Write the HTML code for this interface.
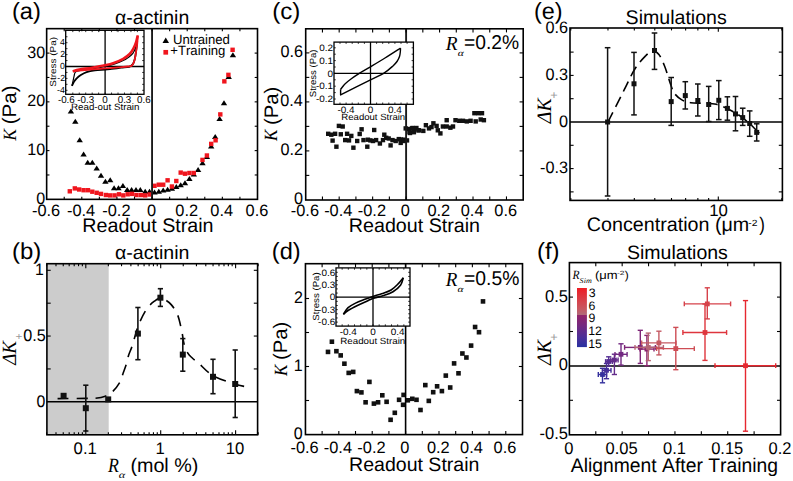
<!DOCTYPE html>
<html><head><meta charset="utf-8"><style>
html,body{margin:0;padding:0;background:#fff;overflow:hidden;}
svg{display:block;}
text{font-kerning:none;text-rendering:geometricPrecision;}
</style></head><body>
<svg width="793" height="481" viewBox="0 0 793 481">
<rect width="793" height="481" fill="#fff"/>
<text transform="translate(11.93,18.96) scale(1.0118,1)" font-size="23.40" font-family='"Liberation Sans", sans-serif' fill="#000" >(a)</text>
<text transform="translate(115.08,24.11) scale(1.0092,1)" font-size="19.34" font-family='"Liberation Sans", sans-serif' fill="#000" >α-actinin</text>
<polygon points="70.90,108.40 67.70,113.40 74.10,113.40" fill="#000"/>
<polygon points="75.30,118.70 72.10,123.70 78.50,123.70" fill="#000"/>
<polygon points="79.70,137.20 76.50,142.20 82.90,142.20" fill="#000"/>
<polygon points="83.60,151.40 80.40,156.40 86.80,156.40" fill="#000"/>
<polygon points="87.70,159.70 84.50,164.70 90.90,164.70" fill="#000"/>
<polygon points="92.30,159.70 89.10,164.70 95.50,164.70" fill="#000"/>
<polygon points="96.70,165.60 93.50,170.60 99.90,170.60" fill="#000"/>
<polygon points="101.00,172.80 97.80,177.80 104.20,177.80" fill="#000"/>
<polygon points="105.40,178.70 102.20,183.70 108.60,183.70" fill="#000"/>
<polygon points="110.20,177.20 107.00,182.20 113.40,182.20" fill="#000"/>
<polygon points="114.10,185.30 110.90,190.30 117.30,190.30" fill="#000"/>
<polygon points="118.50,185.30 115.30,190.30 121.70,190.30" fill="#000"/>
<polygon points="122.90,183.10 119.70,188.10 126.10,188.10" fill="#000"/>
<polygon points="127.20,187.00 124.00,192.00 130.40,192.00" fill="#000"/>
<polygon points="131.60,187.00 128.40,192.00 134.80,192.00" fill="#000"/>
<polygon points="136.00,187.00 132.80,192.00 139.20,192.00" fill="#000"/>
<polygon points="140.30,187.00 137.10,192.00 143.50,192.00" fill="#000"/>
<polygon points="145.20,188.80 142.00,193.80 148.40,193.80" fill="#000"/>
<polygon points="149.50,188.80 146.30,193.80 152.70,193.80" fill="#000"/>
<polygon points="154.50,189.50 151.30,194.50 157.70,194.50" fill="#000"/>
<polygon points="158.80,188.70 155.60,193.70 162.00,193.70" fill="#000"/>
<polygon points="163.20,187.60 160.00,192.60 166.40,192.60" fill="#000"/>
<polygon points="167.60,186.70 164.40,191.70 170.80,191.70" fill="#000"/>
<polygon points="171.90,185.80 168.70,190.80 175.10,190.80" fill="#000"/>
<polygon points="176.30,184.00 173.10,189.00 179.50,189.00" fill="#000"/>
<polygon points="180.70,182.20 177.50,187.20 183.90,187.20" fill="#000"/>
<polygon points="185.00,180.30 181.80,185.30 188.20,185.30" fill="#000"/>
<polygon points="189.40,176.00 186.20,181.00 192.60,181.00" fill="#000"/>
<polygon points="193.80,171.50 190.60,176.50 197.00,176.50" fill="#000"/>
<polygon points="198.10,166.90 194.90,171.90 201.30,171.90" fill="#000"/>
<polygon points="202.50,160.30 199.30,165.30 205.70,165.30" fill="#000"/>
<polygon points="206.90,154.10 203.70,159.10 210.10,159.10" fill="#000"/>
<polygon points="211.20,143.50 208.00,148.50 214.40,148.50" fill="#000"/>
<polygon points="215.20,134.10 212.00,139.10 218.40,139.10" fill="#000"/>
<polygon points="219.60,115.90 216.40,120.90 222.80,120.90" fill="#000"/>
<polygon points="224.00,100.30 220.80,105.30 227.20,105.30" fill="#000"/>
<polygon points="228.70,74.00 225.50,79.00 231.90,79.00" fill="#000"/>
<polygon points="232.90,52.20 229.70,57.20 236.10,57.20" fill="#000"/>
<rect x="67.60" y="189.10" width="4.40" height="4.40" fill="#f0161e"/>
<rect x="72.60" y="186.20" width="4.40" height="4.40" fill="#f0161e"/>
<rect x="77.00" y="187.30" width="4.40" height="4.40" fill="#f0161e"/>
<rect x="81.40" y="188.00" width="4.40" height="4.40" fill="#f0161e"/>
<rect x="85.80" y="188.00" width="4.40" height="4.40" fill="#f0161e"/>
<rect x="90.10" y="189.50" width="4.40" height="4.40" fill="#f0161e"/>
<rect x="94.50" y="190.60" width="4.40" height="4.40" fill="#f0161e"/>
<rect x="98.80" y="191.70" width="4.40" height="4.40" fill="#f0161e"/>
<rect x="103.70" y="192.80" width="4.40" height="4.40" fill="#f0161e"/>
<rect x="108.00" y="193.20" width="4.40" height="4.40" fill="#f0161e"/>
<rect x="112.40" y="193.20" width="4.40" height="4.40" fill="#f0161e"/>
<rect x="116.80" y="192.10" width="4.40" height="4.40" fill="#f0161e"/>
<rect x="121.10" y="193.20" width="4.40" height="4.40" fill="#f0161e"/>
<rect x="125.50" y="192.10" width="4.40" height="4.40" fill="#f0161e"/>
<rect x="129.80" y="191.70" width="4.40" height="4.40" fill="#f0161e"/>
<rect x="134.20" y="192.80" width="4.40" height="4.40" fill="#f0161e"/>
<rect x="138.60" y="192.80" width="4.40" height="4.40" fill="#f0161e"/>
<rect x="143.00" y="193.20" width="4.40" height="4.40" fill="#f0161e"/>
<rect x="147.40" y="192.30" width="4.40" height="4.40" fill="#f0161e"/>
<rect x="152.30" y="183.60" width="4.40" height="4.40" fill="#f0161e"/>
<rect x="156.60" y="182.50" width="4.40" height="4.40" fill="#f0161e"/>
<rect x="161.00" y="182.50" width="4.40" height="4.40" fill="#f0161e"/>
<rect x="165.40" y="178.10" width="4.40" height="4.40" fill="#f0161e"/>
<rect x="169.70" y="184.30" width="4.40" height="4.40" fill="#f0161e"/>
<rect x="174.10" y="178.80" width="4.40" height="4.40" fill="#f0161e"/>
<rect x="178.50" y="170.40" width="4.40" height="4.40" fill="#f0161e"/>
<rect x="182.80" y="171.50" width="4.40" height="4.40" fill="#f0161e"/>
<rect x="187.20" y="170.80" width="4.40" height="4.40" fill="#f0161e"/>
<rect x="191.60" y="170.80" width="4.40" height="4.40" fill="#f0161e"/>
<rect x="200.30" y="157.70" width="4.40" height="4.40" fill="#f0161e"/>
<rect x="204.70" y="153.30" width="4.40" height="4.40" fill="#f0161e"/>
<rect x="209.00" y="141.70" width="4.40" height="4.40" fill="#f0161e"/>
<rect x="213.40" y="138.10" width="4.40" height="4.40" fill="#f0161e"/>
<rect x="218.10" y="112.20" width="4.40" height="4.40" fill="#f0161e"/>
<rect x="222.15" y="79.15" width="4.40" height="4.40" fill="#f0161e"/>
<rect x="226.20" y="72.65" width="4.40" height="4.40" fill="#f0161e"/>
<rect x="230.40" y="47.60" width="4.40" height="4.40" fill="#f0161e"/>
<line x1="152.07" y1="28.65" x2="152.07" y2="199.35" stroke="#1a1a1a" stroke-width="1.9" />
<rect x="65.70" y="30.30" width="78.30" height="64.00" fill="#fff"/>
<line x1="105.10" y1="30.30" x2="105.10" y2="94.30" stroke="#000" stroke-width="1.3" />
<line x1="65.70" y1="66.50" x2="144.00" y2="66.50" stroke="#000" stroke-width="1.3" />
<line x1="72.80" y1="94.30" x2="72.80" y2="92.50" stroke="#000" stroke-width="0.8" />
<line x1="72.80" y1="30.30" x2="72.80" y2="32.10" stroke="#000" stroke-width="0.8" />
<line x1="79.26" y1="94.30" x2="79.26" y2="92.50" stroke="#000" stroke-width="0.8" />
<line x1="79.26" y1="30.30" x2="79.26" y2="32.10" stroke="#000" stroke-width="0.8" />
<line x1="85.72" y1="94.30" x2="85.72" y2="92.50" stroke="#000" stroke-width="0.8" />
<line x1="85.72" y1="30.30" x2="85.72" y2="32.10" stroke="#000" stroke-width="0.8" />
<line x1="92.18" y1="94.30" x2="92.18" y2="92.50" stroke="#000" stroke-width="0.8" />
<line x1="92.18" y1="30.30" x2="92.18" y2="32.10" stroke="#000" stroke-width="0.8" />
<line x1="98.64" y1="94.30" x2="98.64" y2="92.50" stroke="#000" stroke-width="0.8" />
<line x1="98.64" y1="30.30" x2="98.64" y2="32.10" stroke="#000" stroke-width="0.8" />
<line x1="105.10" y1="94.30" x2="105.10" y2="92.50" stroke="#000" stroke-width="0.8" />
<line x1="105.10" y1="30.30" x2="105.10" y2="32.10" stroke="#000" stroke-width="0.8" />
<line x1="111.56" y1="94.30" x2="111.56" y2="92.50" stroke="#000" stroke-width="0.8" />
<line x1="111.56" y1="30.30" x2="111.56" y2="32.10" stroke="#000" stroke-width="0.8" />
<line x1="118.02" y1="94.30" x2="118.02" y2="92.50" stroke="#000" stroke-width="0.8" />
<line x1="118.02" y1="30.30" x2="118.02" y2="32.10" stroke="#000" stroke-width="0.8" />
<line x1="124.48" y1="94.30" x2="124.48" y2="92.50" stroke="#000" stroke-width="0.8" />
<line x1="124.48" y1="30.30" x2="124.48" y2="32.10" stroke="#000" stroke-width="0.8" />
<line x1="130.94" y1="94.30" x2="130.94" y2="92.50" stroke="#000" stroke-width="0.8" />
<line x1="130.94" y1="30.30" x2="130.94" y2="32.10" stroke="#000" stroke-width="0.8" />
<line x1="137.40" y1="94.30" x2="137.40" y2="92.50" stroke="#000" stroke-width="0.8" />
<line x1="137.40" y1="30.30" x2="137.40" y2="32.10" stroke="#000" stroke-width="0.8" />
<line x1="65.70" y1="90.30" x2="67.50" y2="90.30" stroke="#000" stroke-width="0.8" />
<line x1="144.00" y1="90.30" x2="142.20" y2="90.30" stroke="#000" stroke-width="0.8" />
<line x1="65.70" y1="84.35" x2="67.50" y2="84.35" stroke="#000" stroke-width="0.8" />
<line x1="144.00" y1="84.35" x2="142.20" y2="84.35" stroke="#000" stroke-width="0.8" />
<line x1="65.70" y1="78.40" x2="67.50" y2="78.40" stroke="#000" stroke-width="0.8" />
<line x1="144.00" y1="78.40" x2="142.20" y2="78.40" stroke="#000" stroke-width="0.8" />
<line x1="65.70" y1="72.45" x2="67.50" y2="72.45" stroke="#000" stroke-width="0.8" />
<line x1="144.00" y1="72.45" x2="142.20" y2="72.45" stroke="#000" stroke-width="0.8" />
<line x1="65.70" y1="66.50" x2="67.50" y2="66.50" stroke="#000" stroke-width="0.8" />
<line x1="144.00" y1="66.50" x2="142.20" y2="66.50" stroke="#000" stroke-width="0.8" />
<line x1="65.70" y1="60.55" x2="67.50" y2="60.55" stroke="#000" stroke-width="0.8" />
<line x1="144.00" y1="60.55" x2="142.20" y2="60.55" stroke="#000" stroke-width="0.8" />
<line x1="65.70" y1="54.60" x2="67.50" y2="54.60" stroke="#000" stroke-width="0.8" />
<line x1="144.00" y1="54.60" x2="142.20" y2="54.60" stroke="#000" stroke-width="0.8" />
<line x1="65.70" y1="48.65" x2="67.50" y2="48.65" stroke="#000" stroke-width="0.8" />
<line x1="144.00" y1="48.65" x2="142.20" y2="48.65" stroke="#000" stroke-width="0.8" />
<line x1="65.70" y1="42.70" x2="67.50" y2="42.70" stroke="#000" stroke-width="0.8" />
<line x1="144.00" y1="42.70" x2="142.20" y2="42.70" stroke="#000" stroke-width="0.8" />
<line x1="65.70" y1="36.75" x2="67.50" y2="36.75" stroke="#000" stroke-width="0.8" />
<line x1="144.00" y1="36.75" x2="142.20" y2="36.75" stroke="#000" stroke-width="0.8" />
<path d="M72.02,85.78 C72.37,85.08 73.32,82.86 74.09,81.61 C74.87,80.36 75.56,79.38 76.68,78.28 C77.80,77.18 79.15,76.04 80.81,75.01 C82.47,73.98 84.28,72.86 86.62,72.09 C88.97,71.33 91.81,70.84 94.89,70.43 C97.97,70.01 102.32,69.85 105.10,69.59 C107.88,69.34 108.87,69.20 111.56,68.88 C114.25,68.56 118.34,68.04 121.25,67.69 C124.16,67.34 127.06,67.39 129.00,66.80 C130.94,66.20 131.91,65.46 132.88,64.12 C133.85,62.78 134.28,60.95 134.82,58.77 C135.35,56.58 135.71,54.01 136.11,51.03 C136.51,48.05 137.02,42.60 137.21,40.91" fill="none" stroke="#000" stroke-width="1.8" stroke-linejoin="round" stroke-linecap="butt" />
<path d="M137.21,40.91 C136.92,42.10 136.18,45.97 135.46,48.05 C134.74,50.14 133.95,51.92 132.88,53.41 C131.80,54.90 130.62,55.79 129.00,56.98 C127.39,58.17 125.56,59.41 123.19,60.55 C120.82,61.69 117.80,62.83 114.79,63.82 C111.78,64.81 108.87,65.66 105.10,66.50 C101.33,67.34 96.49,68.19 92.18,68.88 C87.87,69.57 82.06,70.12 79.26,70.67 C76.46,71.21 76.25,71.26 75.38,72.15 C74.52,73.05 74.65,73.75 74.09,76.02 C73.53,78.29 72.37,84.15 72.02,85.78" fill="none" stroke="#000" stroke-width="1.2" stroke-linejoin="round" stroke-linecap="butt" />
<path d="M72.80,71.26 C73.88,70.98 76.03,70.19 79.26,69.59 C82.49,69.00 87.87,68.40 92.18,67.69 C96.49,66.98 101.49,66.10 105.10,65.31 C108.71,64.52 110.81,64.02 113.82,62.93 C116.84,61.84 120.55,60.25 123.19,58.77 C125.83,57.28 127.95,55.69 129.65,54.00 C131.35,52.32 132.32,50.63 133.39,48.65 C134.47,46.67 135.39,44.29 136.11,42.11 C136.83,39.92 137.45,36.65 137.72,35.56" fill="none" stroke="#f0161e" stroke-width="2.6" stroke-linejoin="round" stroke-linecap="butt" />
<path d="M137.72,35.56 C137.64,36.97 137.53,41.03 137.21,44.01 C136.88,46.98 136.25,50.61 135.78,53.41 C135.32,56.21 135.06,58.77 134.43,60.79 C133.79,62.80 133.09,64.54 131.97,65.49 C130.85,66.44 129.96,66.19 127.71,66.50 C125.46,66.81 122.24,67.01 118.47,67.33 C114.70,67.66 109.48,68.11 105.10,68.46 C100.72,68.82 96.49,69.13 92.18,69.47 C87.87,69.82 82.49,70.25 79.26,70.55 C76.03,70.84 73.88,71.14 72.80,71.26" fill="none" stroke="#f0161e" stroke-width="1.8" stroke-linejoin="round" stroke-linecap="butt" />
<rect x="65.70" y="30.30" width="78.30" height="64.00" fill="none" stroke="#000" stroke-width="1.3"/>
<text transform="translate(59.96,45.43) scale(1.0000,1)" font-size="8.80" font-family='"Liberation Sans", sans-serif' fill="#000" >4</text>
<text transform="translate(60.15,57.37) scale(1.0000,1)" font-size="8.80" font-family='"Liberation Sans", sans-serif' fill="#000" >2</text>
<text transform="translate(60.05,69.23) scale(1.0000,1)" font-size="8.80" font-family='"Liberation Sans", sans-serif' fill="#000" >0</text>
<text transform="translate(57.22,81.17) scale(1.0000,1)" font-size="8.80" font-family='"Liberation Sans", sans-serif' fill="#000" >-2</text>
<text transform="translate(57.03,93.03) scale(1.0000,1)" font-size="8.80" font-family='"Liberation Sans", sans-serif' fill="#000" >-4</text>
<text transform="translate(57.89,102.70) scale(0.9800,1)" font-size="10.00" font-family='"Liberation Sans", sans-serif' fill="#000" >-0.6</text>
<text transform="translate(77.27,102.70) scale(0.9800,1)" font-size="10.00" font-family='"Liberation Sans", sans-serif' fill="#000" >-0.3</text>
<text transform="translate(102.37,102.70) scale(0.9800,1)" font-size="10.00" font-family='"Liberation Sans", sans-serif' fill="#000" >0</text>
<text transform="translate(117.69,102.70) scale(0.9800,1)" font-size="10.00" font-family='"Liberation Sans", sans-serif' fill="#000" >0.3</text>
<text transform="translate(137.07,102.70) scale(0.9800,1)" font-size="10.00" font-family='"Liberation Sans", sans-serif' fill="#000" >0.6</text>
<text transform="translate(71.00,109.71) scale(1.0568,1)" font-size="9.26" font-family='"Liberation Sans", sans-serif' fill="#000" >Read-out Strain</text>
<text transform="translate(55.82,86.65) rotate(-90) scale(1.1589,1)" font-size="8.59" font-family='"Liberation Sans", sans-serif' fill="#000" >Stress (Pa)</text>
<polygon points="165.75,37.60 162.50,43.00 169.00,43.00" fill="#000"/>
<text transform="translate(172.99,43.57) scale(0.9804,1)" font-size="13.40" font-family='"Liberation Sans", sans-serif' fill="#000" >Untrained</text>
<rect x="163.40" y="49.95" width="4.70" height="4.70" fill="#f0161e"/>
<text transform="translate(170.26,55.42) scale(0.9814,1)" font-size="13.40" font-family='"Liberation Sans", sans-serif' fill="#000" >+Training</text>
<rect x="46.65" y="28.65" width="210.85" height="170.70" fill="none" stroke="#000" stroke-width="1.6"/>
<line x1="64.22" y1="199.35" x2="64.22" y2="196.75" stroke="#000" stroke-width="1.1" />
<line x1="64.22" y1="28.65" x2="64.22" y2="31.25" stroke="#000" stroke-width="1.1" />
<line x1="81.79" y1="199.35" x2="81.79" y2="196.75" stroke="#000" stroke-width="1.1" />
<line x1="81.79" y1="28.65" x2="81.79" y2="31.25" stroke="#000" stroke-width="1.1" />
<line x1="99.36" y1="199.35" x2="99.36" y2="196.75" stroke="#000" stroke-width="1.1" />
<line x1="99.36" y1="28.65" x2="99.36" y2="31.25" stroke="#000" stroke-width="1.1" />
<line x1="116.93" y1="199.35" x2="116.93" y2="196.75" stroke="#000" stroke-width="1.1" />
<line x1="116.93" y1="28.65" x2="116.93" y2="31.25" stroke="#000" stroke-width="1.1" />
<line x1="134.50" y1="199.35" x2="134.50" y2="196.75" stroke="#000" stroke-width="1.1" />
<line x1="134.50" y1="28.65" x2="134.50" y2="31.25" stroke="#000" stroke-width="1.1" />
<line x1="152.07" y1="199.35" x2="152.07" y2="196.75" stroke="#000" stroke-width="1.1" />
<line x1="152.07" y1="28.65" x2="152.07" y2="31.25" stroke="#000" stroke-width="1.1" />
<line x1="169.64" y1="199.35" x2="169.64" y2="196.75" stroke="#000" stroke-width="1.1" />
<line x1="169.64" y1="28.65" x2="169.64" y2="31.25" stroke="#000" stroke-width="1.1" />
<line x1="187.21" y1="199.35" x2="187.21" y2="196.75" stroke="#000" stroke-width="1.1" />
<line x1="187.21" y1="28.65" x2="187.21" y2="31.25" stroke="#000" stroke-width="1.1" />
<line x1="204.78" y1="199.35" x2="204.78" y2="196.75" stroke="#000" stroke-width="1.1" />
<line x1="204.78" y1="28.65" x2="204.78" y2="31.25" stroke="#000" stroke-width="1.1" />
<line x1="222.35" y1="199.35" x2="222.35" y2="196.75" stroke="#000" stroke-width="1.1" />
<line x1="222.35" y1="28.65" x2="222.35" y2="31.25" stroke="#000" stroke-width="1.1" />
<line x1="239.92" y1="199.35" x2="239.92" y2="196.75" stroke="#000" stroke-width="1.1" />
<line x1="239.92" y1="28.65" x2="239.92" y2="31.25" stroke="#000" stroke-width="1.1" />
<line x1="46.65" y1="174.97" x2="49.45" y2="174.97" stroke="#000" stroke-width="1.1" />
<line x1="257.50" y1="174.97" x2="254.70" y2="174.97" stroke="#000" stroke-width="1.1" />
<line x1="46.65" y1="150.60" x2="49.45" y2="150.60" stroke="#000" stroke-width="1.1" />
<line x1="257.50" y1="150.60" x2="254.70" y2="150.60" stroke="#000" stroke-width="1.1" />
<line x1="46.65" y1="126.22" x2="49.45" y2="126.22" stroke="#000" stroke-width="1.1" />
<line x1="257.50" y1="126.22" x2="254.70" y2="126.22" stroke="#000" stroke-width="1.1" />
<line x1="46.65" y1="101.85" x2="49.45" y2="101.85" stroke="#000" stroke-width="1.1" />
<line x1="257.50" y1="101.85" x2="254.70" y2="101.85" stroke="#000" stroke-width="1.1" />
<line x1="46.65" y1="77.47" x2="49.45" y2="77.47" stroke="#000" stroke-width="1.1" />
<line x1="257.50" y1="77.47" x2="254.70" y2="77.47" stroke="#000" stroke-width="1.1" />
<line x1="46.65" y1="53.10" x2="49.45" y2="53.10" stroke="#000" stroke-width="1.1" />
<line x1="257.50" y1="53.10" x2="254.70" y2="53.10" stroke="#000" stroke-width="1.1" />
<text transform="translate(31.92,215.64) scale(1.0000,1)" font-size="16.40" font-family='"Liberation Sans", sans-serif' fill="#000" >-0.6</text>
<text transform="translate(66.94,215.64) scale(1.0000,1)" font-size="16.40" font-family='"Liberation Sans", sans-serif' fill="#000" >-0.4</text>
<text transform="translate(102.25,215.64) scale(1.0000,1)" font-size="16.40" font-family='"Liberation Sans", sans-serif' fill="#000" >-0.2</text>
<text transform="translate(146.91,215.64) scale(1.0000,1)" font-size="16.40" font-family='"Liberation Sans", sans-serif' fill="#000" >0</text>
<text transform="translate(175.30,215.64) scale(1.0000,1)" font-size="16.40" font-family='"Liberation Sans", sans-serif' fill="#000" >0.2</text>
<text transform="translate(210.27,215.64) scale(1.0000,1)" font-size="16.40" font-family='"Liberation Sans", sans-serif' fill="#000" >0.4</text>
<text transform="translate(245.53,215.64) scale(1.0000,1)" font-size="16.40" font-family='"Liberation Sans", sans-serif' fill="#000" >0.6</text>
<text transform="translate(36.27,203.86) scale(0.9700,1)" font-size="16.60" font-family='"Liberation Sans", sans-serif' fill="#000" >0</text>
<text transform="translate(27.32,155.11) scale(0.9700,1)" font-size="16.60" font-family='"Liberation Sans", sans-serif' fill="#000" >10</text>
<text transform="translate(27.32,106.36) scale(0.9700,1)" font-size="16.60" font-family='"Liberation Sans", sans-serif' fill="#000" >20</text>
<text transform="translate(27.32,57.61) scale(0.9700,1)" font-size="16.60" font-family='"Liberation Sans", sans-serif' fill="#000" >30</text>
<text transform="translate(82.29,231.61) scale(1.0042,1)" font-size="19.60" font-family='"Liberation Sans", sans-serif' fill="#000" >Readout Strain</text>
<text transform="translate(15.80,140.69) rotate(-90) scale(0.9519,1)" font-size="18.63" font-family='"Liberation Serif", serif' font-style="italic" fill="#000" >K</text>
<text transform="translate(16.36,124.28) rotate(-90) scale(1.0556,1)" font-size="19.54" font-family='"Liberation Sans", sans-serif' fill="#000" >(Pa)</text>
<rect x="46.90" y="263.70" width="61.80" height="171.10" fill="#cccccc"/>
<text transform="translate(12.01,258.98) scale(1.0282,1)" font-size="23.29" font-family='"Liberation Sans", sans-serif' fill="#000" >(b)</text>
<text transform="translate(114.98,259.21) scale(1.0293,1)" font-size="19.06" font-family='"Liberation Sans", sans-serif' fill="#000" >α-actinin</text>
<line x1="46.90" y1="401.80" x2="257.60" y2="401.80" stroke="#000" stroke-width="1.5" />
<path d="M57.58,398.64 C62.28,398.60 79.55,398.45 85.80,398.38 C92.05,398.32 91.83,398.62 95.08,398.25 C98.32,397.88 102.36,397.24 105.28,396.15 C108.20,395.05 110.18,394.00 112.61,391.67 C115.04,389.35 118.17,385.12 119.87,382.21 C121.57,379.29 121.73,377.21 122.81,374.19 C123.89,371.16 125.40,367.22 126.36,364.06 C127.33,360.90 127.60,358.41 128.62,355.25 C129.64,352.09 130.87,350.05 132.48,345.12 C134.09,340.19 135.93,331.67 138.28,325.66 C140.63,319.66 143.82,313.23 146.59,309.09 C149.36,304.95 152.67,302.61 154.91,300.81 C157.15,299.01 158.32,298.46 160.04,298.31 C161.77,298.16 163.35,298.79 165.25,299.89 C167.14,300.98 169.32,302.32 171.41,304.88 C173.50,307.45 176.02,310.76 177.77,315.27 C179.52,319.79 180.87,327.20 181.92,331.97 C182.97,336.75 183.07,340.41 184.05,343.94 C185.03,347.47 186.42,350.80 187.79,353.14 C189.16,355.49 190.49,356.34 192.28,358.01 C194.07,359.68 195.13,360.22 198.54,363.14 C201.94,366.05 206.71,372.02 212.73,375.50 C218.74,378.98 228.82,382.14 234.61,384.05 C240.40,385.95 245.32,386.46 247.46,386.94" fill="none" stroke="#000" stroke-width="1.6" stroke-dasharray="11,8" stroke-linejoin="round" stroke-linecap="butt" />
<rect x="60.60" y="392.80" width="6.00" height="6.00" fill="#111"/>
<line x1="85.80" y1="385.20" x2="85.80" y2="431.00" stroke="#111" stroke-width="1.6" />
<line x1="83.20" y1="385.20" x2="88.40" y2="385.20" stroke="#111" stroke-width="1.6" />
<line x1="83.20" y1="431.00" x2="88.40" y2="431.00" stroke="#111" stroke-width="1.6" />
<rect x="82.80" y="405.20" width="6.00" height="6.00" fill="#111"/>
<rect x="105.20" y="396.40" width="6.00" height="6.00" fill="#111"/>
<line x1="137.90" y1="307.50" x2="137.90" y2="359.70" stroke="#111" stroke-width="1.6" />
<line x1="135.30" y1="307.50" x2="140.50" y2="307.50" stroke="#111" stroke-width="1.6" />
<line x1="135.30" y1="359.70" x2="140.50" y2="359.70" stroke="#111" stroke-width="1.6" />
<rect x="134.90" y="330.60" width="6.00" height="6.00" fill="#111"/>
<line x1="160.40" y1="288.70" x2="160.40" y2="306.40" stroke="#111" stroke-width="1.6" />
<line x1="157.80" y1="288.70" x2="163.00" y2="288.70" stroke="#111" stroke-width="1.6" />
<line x1="157.80" y1="306.40" x2="163.00" y2="306.40" stroke="#111" stroke-width="1.6" />
<rect x="157.40" y="294.70" width="6.00" height="6.00" fill="#111"/>
<line x1="182.80" y1="338.60" x2="182.80" y2="371.20" stroke="#111" stroke-width="1.6" />
<line x1="180.20" y1="338.60" x2="185.40" y2="338.60" stroke="#111" stroke-width="1.6" />
<line x1="180.20" y1="371.20" x2="185.40" y2="371.20" stroke="#111" stroke-width="1.6" />
<rect x="179.80" y="351.60" width="6.00" height="6.00" fill="#111"/>
<line x1="213.00" y1="359.30" x2="213.00" y2="393.70" stroke="#111" stroke-width="1.6" />
<line x1="210.40" y1="359.30" x2="215.60" y2="359.30" stroke="#111" stroke-width="1.6" />
<line x1="210.40" y1="393.70" x2="215.60" y2="393.70" stroke="#111" stroke-width="1.6" />
<rect x="210.00" y="373.80" width="6.00" height="6.00" fill="#111"/>
<line x1="235.20" y1="350.00" x2="235.20" y2="417.50" stroke="#111" stroke-width="1.6" />
<line x1="232.60" y1="350.00" x2="237.80" y2="350.00" stroke="#111" stroke-width="1.6" />
<line x1="232.60" y1="417.50" x2="237.80" y2="417.50" stroke="#111" stroke-width="1.6" />
<rect x="232.20" y="381.00" width="6.00" height="6.00" fill="#111"/>
<rect x="46.90" y="263.70" width="210.70" height="171.10" fill="none" stroke="#000" stroke-width="1.6"/>
<line x1="85.80" y1="434.80" x2="85.80" y2="430.30" stroke="#000" stroke-width="1.1" />
<line x1="85.80" y1="263.70" x2="85.80" y2="268.20" stroke="#000" stroke-width="1.1" />
<line x1="160.70" y1="434.80" x2="160.70" y2="430.30" stroke="#000" stroke-width="1.1" />
<line x1="160.70" y1="263.70" x2="160.70" y2="268.20" stroke="#000" stroke-width="1.1" />
<line x1="235.60" y1="434.80" x2="235.60" y2="430.30" stroke="#000" stroke-width="1.1" />
<line x1="235.60" y1="263.70" x2="235.60" y2="268.20" stroke="#000" stroke-width="1.1" />
<line x1="46.64" y1="434.80" x2="46.64" y2="432.30" stroke="#000" stroke-width="1.1" />
<line x1="46.64" y1="263.70" x2="46.64" y2="266.20" stroke="#000" stroke-width="1.1" />
<line x1="55.99" y1="434.80" x2="55.99" y2="432.30" stroke="#000" stroke-width="1.1" />
<line x1="55.99" y1="263.70" x2="55.99" y2="266.20" stroke="#000" stroke-width="1.1" />
<line x1="63.25" y1="434.80" x2="63.25" y2="432.30" stroke="#000" stroke-width="1.1" />
<line x1="63.25" y1="263.70" x2="63.25" y2="266.20" stroke="#000" stroke-width="1.1" />
<line x1="69.18" y1="434.80" x2="69.18" y2="432.30" stroke="#000" stroke-width="1.1" />
<line x1="69.18" y1="263.70" x2="69.18" y2="266.20" stroke="#000" stroke-width="1.1" />
<line x1="74.20" y1="434.80" x2="74.20" y2="432.30" stroke="#000" stroke-width="1.1" />
<line x1="74.20" y1="263.70" x2="74.20" y2="266.20" stroke="#000" stroke-width="1.1" />
<line x1="78.54" y1="434.80" x2="78.54" y2="432.30" stroke="#000" stroke-width="1.1" />
<line x1="78.54" y1="263.70" x2="78.54" y2="266.20" stroke="#000" stroke-width="1.1" />
<line x1="82.37" y1="434.80" x2="82.37" y2="432.30" stroke="#000" stroke-width="1.1" />
<line x1="82.37" y1="263.70" x2="82.37" y2="266.20" stroke="#000" stroke-width="1.1" />
<line x1="108.35" y1="434.80" x2="108.35" y2="432.30" stroke="#000" stroke-width="1.1" />
<line x1="108.35" y1="263.70" x2="108.35" y2="266.20" stroke="#000" stroke-width="1.1" />
<line x1="121.54" y1="434.80" x2="121.54" y2="432.30" stroke="#000" stroke-width="1.1" />
<line x1="121.54" y1="263.70" x2="121.54" y2="266.20" stroke="#000" stroke-width="1.1" />
<line x1="130.89" y1="434.80" x2="130.89" y2="432.30" stroke="#000" stroke-width="1.1" />
<line x1="130.89" y1="263.70" x2="130.89" y2="266.20" stroke="#000" stroke-width="1.1" />
<line x1="138.15" y1="434.80" x2="138.15" y2="432.30" stroke="#000" stroke-width="1.1" />
<line x1="138.15" y1="263.70" x2="138.15" y2="266.20" stroke="#000" stroke-width="1.1" />
<line x1="144.08" y1="434.80" x2="144.08" y2="432.30" stroke="#000" stroke-width="1.1" />
<line x1="144.08" y1="263.70" x2="144.08" y2="266.20" stroke="#000" stroke-width="1.1" />
<line x1="149.10" y1="434.80" x2="149.10" y2="432.30" stroke="#000" stroke-width="1.1" />
<line x1="149.10" y1="263.70" x2="149.10" y2="266.20" stroke="#000" stroke-width="1.1" />
<line x1="153.44" y1="434.80" x2="153.44" y2="432.30" stroke="#000" stroke-width="1.1" />
<line x1="153.44" y1="263.70" x2="153.44" y2="266.20" stroke="#000" stroke-width="1.1" />
<line x1="157.27" y1="434.80" x2="157.27" y2="432.30" stroke="#000" stroke-width="1.1" />
<line x1="157.27" y1="263.70" x2="157.27" y2="266.20" stroke="#000" stroke-width="1.1" />
<line x1="183.25" y1="434.80" x2="183.25" y2="432.30" stroke="#000" stroke-width="1.1" />
<line x1="183.25" y1="263.70" x2="183.25" y2="266.20" stroke="#000" stroke-width="1.1" />
<line x1="196.44" y1="434.80" x2="196.44" y2="432.30" stroke="#000" stroke-width="1.1" />
<line x1="196.44" y1="263.70" x2="196.44" y2="266.20" stroke="#000" stroke-width="1.1" />
<line x1="205.79" y1="434.80" x2="205.79" y2="432.30" stroke="#000" stroke-width="1.1" />
<line x1="205.79" y1="263.70" x2="205.79" y2="266.20" stroke="#000" stroke-width="1.1" />
<line x1="213.05" y1="434.80" x2="213.05" y2="432.30" stroke="#000" stroke-width="1.1" />
<line x1="213.05" y1="263.70" x2="213.05" y2="266.20" stroke="#000" stroke-width="1.1" />
<line x1="218.98" y1="434.80" x2="218.98" y2="432.30" stroke="#000" stroke-width="1.1" />
<line x1="218.98" y1="263.70" x2="218.98" y2="266.20" stroke="#000" stroke-width="1.1" />
<line x1="224.00" y1="434.80" x2="224.00" y2="432.30" stroke="#000" stroke-width="1.1" />
<line x1="224.00" y1="263.70" x2="224.00" y2="266.20" stroke="#000" stroke-width="1.1" />
<line x1="228.34" y1="434.80" x2="228.34" y2="432.30" stroke="#000" stroke-width="1.1" />
<line x1="228.34" y1="263.70" x2="228.34" y2="266.20" stroke="#000" stroke-width="1.1" />
<line x1="232.17" y1="434.80" x2="232.17" y2="432.30" stroke="#000" stroke-width="1.1" />
<line x1="232.17" y1="263.70" x2="232.17" y2="266.20" stroke="#000" stroke-width="1.1" />
<line x1="258.15" y1="434.80" x2="258.15" y2="432.30" stroke="#000" stroke-width="1.1" />
<line x1="258.15" y1="263.70" x2="258.15" y2="266.20" stroke="#000" stroke-width="1.1" />
<line x1="46.90" y1="368.93" x2="50.70" y2="368.93" stroke="#000" stroke-width="1.1" />
<line x1="257.60" y1="368.93" x2="253.80" y2="368.93" stroke="#000" stroke-width="1.1" />
<line x1="46.90" y1="336.05" x2="50.70" y2="336.05" stroke="#000" stroke-width="1.1" />
<line x1="257.60" y1="336.05" x2="253.80" y2="336.05" stroke="#000" stroke-width="1.1" />
<line x1="46.90" y1="303.18" x2="50.70" y2="303.18" stroke="#000" stroke-width="1.1" />
<line x1="257.60" y1="303.18" x2="253.80" y2="303.18" stroke="#000" stroke-width="1.1" />
<line x1="46.90" y1="270.30" x2="50.70" y2="270.30" stroke="#000" stroke-width="1.1" />
<line x1="257.60" y1="270.30" x2="253.80" y2="270.30" stroke="#000" stroke-width="1.1" />
<text transform="translate(73.62,453.54) scale(1.0000,1)" font-size="16.70" font-family='"Liberation Sans", sans-serif' fill="#000" >0.1</text>
<text transform="translate(155.53,453.70) scale(1.0000,1)" font-size="16.70" font-family='"Liberation Sans", sans-serif' fill="#000" >1</text>
<text transform="translate(225.80,453.54) scale(1.0000,1)" font-size="16.70" font-family='"Liberation Sans", sans-serif' fill="#000" >10</text>
<text transform="translate(36.40,406.55) scale(0.9500,1)" font-size="16.70" font-family='"Liberation Sans", sans-serif' fill="#000" >0</text>
<text transform="translate(23.16,340.95) scale(0.9700,1)" font-size="16.70" font-family='"Liberation Sans", sans-serif' fill="#000" >0.5</text>
<text transform="translate(35.05,275.04) scale(0.9500,1)" font-size="16.70" font-family='"Liberation Sans", sans-serif' fill="#000" >1</text>
<text transform="translate(107.90,472.00) scale(0.8852,1)" font-size="20.16" font-family='"Liberation Serif", serif' font-style="italic" fill="#000" >R</text>
<text transform="translate(118.83,478.30) scale(1.3185,1)" font-size="9.34" font-family='"Liberation Serif", serif' font-style="italic" fill="#000" >α</text>
<text transform="translate(130.38,471.61) scale(0.9988,1)" font-size="19.75" font-family='"Liberation Sans", sans-serif' fill="#000" >(mol %)</text>
<text transform="translate(16.40,364.87) rotate(-90) scale(0.9479,1)" font-size="20.15" font-family='"Liberation Serif", serif' font-style="italic" fill="#000" >ΔK</text>
<text transform="translate(15.53,340.43) scale(1.1039,1)" font-size="10.63" font-family='"Liberation Sans", sans-serif' fill="#999" >+</text>
<text transform="translate(272.20,18.96) scale(1.0335,1)" font-size="23.40" font-family='"Liberation Sans", sans-serif' fill="#000" >(c)</text>
<rect x="336.70" y="123.70" width="4.40" height="4.40" fill="#111"/>
<rect x="340.50" y="124.30" width="4.40" height="4.40" fill="#111"/>
<rect x="326.00" y="131.60" width="4.40" height="4.40" fill="#111"/>
<rect x="329.10" y="132.50" width="4.40" height="4.40" fill="#111"/>
<rect x="332.90" y="131.60" width="4.40" height="4.40" fill="#111"/>
<rect x="330.40" y="138.40" width="4.40" height="4.40" fill="#111"/>
<rect x="334.20" y="144.50" width="4.40" height="4.40" fill="#111"/>
<rect x="338.60" y="132.10" width="4.40" height="4.40" fill="#111"/>
<rect x="343.00" y="137.90" width="4.40" height="4.40" fill="#111"/>
<rect x="344.90" y="131.60" width="4.40" height="4.40" fill="#111"/>
<rect x="346.80" y="138.20" width="4.40" height="4.40" fill="#111"/>
<rect x="349.10" y="133.70" width="4.40" height="4.40" fill="#111"/>
<rect x="351.20" y="145.50" width="4.40" height="4.40" fill="#111"/>
<rect x="355.00" y="138.80" width="4.40" height="4.40" fill="#111"/>
<rect x="357.50" y="131.80" width="4.40" height="4.40" fill="#111"/>
<rect x="359.40" y="127.10" width="4.40" height="4.40" fill="#111"/>
<rect x="361.30" y="137.90" width="4.40" height="4.40" fill="#111"/>
<rect x="365.10" y="144.50" width="4.40" height="4.40" fill="#111"/>
<rect x="365.70" y="137.50" width="4.40" height="4.40" fill="#111"/>
<rect x="368.20" y="138.20" width="4.40" height="4.40" fill="#111"/>
<rect x="372.00" y="127.80" width="4.40" height="4.40" fill="#111"/>
<rect x="370.80" y="138.80" width="4.40" height="4.40" fill="#111"/>
<rect x="373.90" y="137.90" width="4.40" height="4.40" fill="#111"/>
<rect x="377.70" y="141.30" width="4.40" height="4.40" fill="#111"/>
<rect x="382.10" y="132.50" width="4.40" height="4.40" fill="#111"/>
<rect x="380.80" y="137.90" width="4.40" height="4.40" fill="#111"/>
<rect x="384.00" y="135.60" width="4.40" height="4.40" fill="#111"/>
<rect x="386.50" y="136.30" width="4.40" height="4.40" fill="#111"/>
<rect x="388.40" y="143.20" width="4.40" height="4.40" fill="#111"/>
<rect x="390.30" y="137.90" width="4.40" height="4.40" fill="#111"/>
<rect x="393.50" y="138.80" width="4.40" height="4.40" fill="#111"/>
<rect x="396.60" y="136.90" width="4.40" height="4.40" fill="#111"/>
<rect x="398.50" y="140.70" width="4.40" height="4.40" fill="#111"/>
<rect x="401.70" y="137.50" width="4.40" height="4.40" fill="#111"/>
<rect x="404.80" y="138.20" width="4.40" height="4.40" fill="#111"/>
<rect x="403.50" y="126.20" width="4.40" height="4.40" fill="#111"/>
<rect x="407.30" y="130.00" width="4.40" height="4.40" fill="#111"/>
<rect x="409.80" y="126.20" width="4.40" height="4.40" fill="#111"/>
<rect x="413.60" y="126.20" width="4.40" height="4.40" fill="#111"/>
<rect x="416.20" y="128.10" width="4.40" height="4.40" fill="#111"/>
<rect x="406.60" y="126.80" width="4.40" height="4.40" fill="#111"/>
<rect x="410.40" y="125.80" width="4.40" height="4.40" fill="#111"/>
<rect x="414.20" y="125.80" width="4.40" height="4.40" fill="#111"/>
<rect x="407.80" y="130.80" width="4.40" height="4.40" fill="#111"/>
<rect x="411.70" y="130.00" width="4.40" height="4.40" fill="#111"/>
<rect x="416.70" y="128.10" width="4.40" height="4.40" fill="#111"/>
<rect x="421.10" y="128.70" width="4.40" height="4.40" fill="#111"/>
<rect x="423.70" y="123.00" width="4.40" height="4.40" fill="#111"/>
<rect x="426.80" y="126.20" width="4.40" height="4.40" fill="#111"/>
<rect x="431.20" y="121.10" width="4.40" height="4.40" fill="#111"/>
<rect x="429.30" y="124.90" width="4.40" height="4.40" fill="#111"/>
<rect x="434.40" y="123.70" width="4.40" height="4.40" fill="#111"/>
<rect x="435.60" y="128.10" width="4.40" height="4.40" fill="#111"/>
<rect x="438.20" y="131.20" width="4.40" height="4.40" fill="#111"/>
<rect x="440.70" y="124.30" width="4.40" height="4.40" fill="#111"/>
<rect x="444.50" y="124.30" width="4.40" height="4.40" fill="#111"/>
<rect x="448.20" y="125.50" width="4.40" height="4.40" fill="#111"/>
<rect x="450.80" y="124.30" width="4.40" height="4.40" fill="#111"/>
<rect x="444.50" y="118.00" width="4.40" height="4.40" fill="#111"/>
<rect x="453.30" y="118.00" width="4.40" height="4.40" fill="#111"/>
<rect x="457.10" y="118.60" width="4.40" height="4.40" fill="#111"/>
<rect x="460.80" y="118.60" width="4.40" height="4.40" fill="#111"/>
<rect x="464.60" y="119.20" width="4.40" height="4.40" fill="#111"/>
<rect x="468.40" y="118.60" width="4.40" height="4.40" fill="#111"/>
<rect x="473.50" y="119.20" width="4.40" height="4.40" fill="#111"/>
<rect x="478.50" y="117.30" width="4.40" height="4.40" fill="#111"/>
<rect x="481.70" y="118.00" width="4.40" height="4.40" fill="#111"/>
<rect x="472.20" y="111.00" width="4.40" height="4.40" fill="#111"/>
<rect x="476.00" y="111.00" width="4.40" height="4.40" fill="#111"/>
<rect x="479.80" y="111.00" width="4.40" height="4.40" fill="#111"/>
<rect x="398.80" y="137.30" width="4.40" height="4.40" fill="#111"/>
<rect x="401.80" y="138.80" width="4.40" height="4.40" fill="#111"/>
<line x1="406.10" y1="28.80" x2="406.10" y2="200.00" stroke="#1a1a1a" stroke-width="1.9" />
<rect x="334.00" y="42.10" width="79.40" height="62.20" fill="#fff"/>
<line x1="370.50" y1="42.10" x2="370.50" y2="104.30" stroke="#000" stroke-width="1.3" />
<line x1="334.00" y1="73.40" x2="413.40" y2="73.40" stroke="#000" stroke-width="1.3" />
<line x1="340.00" y1="104.30" x2="340.00" y2="102.50" stroke="#000" stroke-width="0.8" />
<line x1="340.00" y1="42.10" x2="340.00" y2="43.90" stroke="#000" stroke-width="0.8" />
<line x1="346.10" y1="104.30" x2="346.10" y2="102.50" stroke="#000" stroke-width="0.8" />
<line x1="346.10" y1="42.10" x2="346.10" y2="43.90" stroke="#000" stroke-width="0.8" />
<line x1="352.20" y1="104.30" x2="352.20" y2="102.50" stroke="#000" stroke-width="0.8" />
<line x1="352.20" y1="42.10" x2="352.20" y2="43.90" stroke="#000" stroke-width="0.8" />
<line x1="358.30" y1="104.30" x2="358.30" y2="102.50" stroke="#000" stroke-width="0.8" />
<line x1="358.30" y1="42.10" x2="358.30" y2="43.90" stroke="#000" stroke-width="0.8" />
<line x1="364.40" y1="104.30" x2="364.40" y2="102.50" stroke="#000" stroke-width="0.8" />
<line x1="364.40" y1="42.10" x2="364.40" y2="43.90" stroke="#000" stroke-width="0.8" />
<line x1="370.50" y1="104.30" x2="370.50" y2="102.50" stroke="#000" stroke-width="0.8" />
<line x1="370.50" y1="42.10" x2="370.50" y2="43.90" stroke="#000" stroke-width="0.8" />
<line x1="376.60" y1="104.30" x2="376.60" y2="102.50" stroke="#000" stroke-width="0.8" />
<line x1="376.60" y1="42.10" x2="376.60" y2="43.90" stroke="#000" stroke-width="0.8" />
<line x1="382.70" y1="104.30" x2="382.70" y2="102.50" stroke="#000" stroke-width="0.8" />
<line x1="382.70" y1="42.10" x2="382.70" y2="43.90" stroke="#000" stroke-width="0.8" />
<line x1="388.80" y1="104.30" x2="388.80" y2="102.50" stroke="#000" stroke-width="0.8" />
<line x1="388.80" y1="42.10" x2="388.80" y2="43.90" stroke="#000" stroke-width="0.8" />
<line x1="394.90" y1="104.30" x2="394.90" y2="102.50" stroke="#000" stroke-width="0.8" />
<line x1="394.90" y1="42.10" x2="394.90" y2="43.90" stroke="#000" stroke-width="0.8" />
<line x1="401.00" y1="104.30" x2="401.00" y2="102.50" stroke="#000" stroke-width="0.8" />
<line x1="401.00" y1="42.10" x2="401.00" y2="43.90" stroke="#000" stroke-width="0.8" />
<line x1="407.10" y1="104.30" x2="407.10" y2="102.50" stroke="#000" stroke-width="0.8" />
<line x1="407.10" y1="42.10" x2="407.10" y2="43.90" stroke="#000" stroke-width="0.8" />
<line x1="334.00" y1="99.00" x2="335.80" y2="99.00" stroke="#000" stroke-width="0.8" />
<line x1="413.40" y1="99.00" x2="411.60" y2="99.00" stroke="#000" stroke-width="0.8" />
<line x1="334.00" y1="92.60" x2="335.80" y2="92.60" stroke="#000" stroke-width="0.8" />
<line x1="413.40" y1="92.60" x2="411.60" y2="92.60" stroke="#000" stroke-width="0.8" />
<line x1="334.00" y1="86.20" x2="335.80" y2="86.20" stroke="#000" stroke-width="0.8" />
<line x1="413.40" y1="86.20" x2="411.60" y2="86.20" stroke="#000" stroke-width="0.8" />
<line x1="334.00" y1="79.80" x2="335.80" y2="79.80" stroke="#000" stroke-width="0.8" />
<line x1="413.40" y1="79.80" x2="411.60" y2="79.80" stroke="#000" stroke-width="0.8" />
<line x1="334.00" y1="73.40" x2="335.80" y2="73.40" stroke="#000" stroke-width="0.8" />
<line x1="413.40" y1="73.40" x2="411.60" y2="73.40" stroke="#000" stroke-width="0.8" />
<line x1="334.00" y1="67.00" x2="335.80" y2="67.00" stroke="#000" stroke-width="0.8" />
<line x1="413.40" y1="67.00" x2="411.60" y2="67.00" stroke="#000" stroke-width="0.8" />
<line x1="334.00" y1="60.60" x2="335.80" y2="60.60" stroke="#000" stroke-width="0.8" />
<line x1="413.40" y1="60.60" x2="411.60" y2="60.60" stroke="#000" stroke-width="0.8" />
<line x1="334.00" y1="54.20" x2="335.80" y2="54.20" stroke="#000" stroke-width="0.8" />
<line x1="413.40" y1="54.20" x2="411.60" y2="54.20" stroke="#000" stroke-width="0.8" />
<line x1="334.00" y1="47.80" x2="335.80" y2="47.80" stroke="#000" stroke-width="0.8" />
<line x1="413.40" y1="47.80" x2="411.60" y2="47.80" stroke="#000" stroke-width="0.8" />
<path d="M340.60,89.30 C341.00,88.80 342.23,87.23 343.00,86.30 C343.77,85.37 343.87,84.92 345.20,83.70 C346.53,82.48 348.65,80.72 351.00,79.00 C353.35,77.28 356.05,75.43 359.30,73.40 C362.55,71.37 366.22,69.37 370.50,66.80 C374.78,64.23 380.00,61.12 385.00,58.00 C390.00,54.88 397.92,49.75 400.50,48.10" fill="none" stroke="#000" stroke-width="1.4" stroke-linejoin="round" stroke-linecap="butt" />
<path d="M400.50,48.10 C400.47,48.75 400.47,50.60 400.30,52.00 C400.13,53.40 400.05,54.92 399.50,56.50 C398.95,58.08 398.08,59.93 397.00,61.50 C395.92,63.07 395.23,63.92 393.00,65.90 C390.77,67.88 387.35,71.07 383.60,73.40 C379.85,75.73 377.67,76.32 370.50,79.90 C363.33,83.48 345.58,92.40 340.60,94.90 L340.6,89.3" fill="none" stroke="#000" stroke-width="1.4" stroke-linejoin="round" stroke-linecap="butt" />
<rect x="334.00" y="42.10" width="79.40" height="62.20" fill="none" stroke="#000" stroke-width="1.3"/>
<text transform="translate(319.25,51.04) scale(1.0600,1)" font-size="9.40" font-family='"Liberation Sans", sans-serif' fill="#000" >0.2</text>
<text transform="translate(319.24,63.84) scale(1.0600,1)" font-size="9.40" font-family='"Liberation Sans", sans-serif' fill="#000" >0.1</text>
<text transform="translate(327.45,76.64) scale(1.0600,1)" font-size="9.40" font-family='"Liberation Sans", sans-serif' fill="#000" >0</text>
<text transform="translate(315.92,89.44) scale(1.0600,1)" font-size="9.40" font-family='"Liberation Sans", sans-serif' fill="#000" >-0.1</text>
<text transform="translate(315.93,102.24) scale(1.0600,1)" font-size="9.40" font-family='"Liberation Sans", sans-serif' fill="#000" >-0.2</text>
<text transform="translate(337.44,112.51) scale(1.0600,1)" font-size="9.40" font-family='"Liberation Sans", sans-serif' fill="#000" >-0.4</text>
<text transform="translate(367.73,112.51) scale(1.0600,1)" font-size="9.40" font-family='"Liberation Sans", sans-serif' fill="#000" >0</text>
<text transform="translate(387.93,112.51) scale(1.0600,1)" font-size="9.40" font-family='"Liberation Sans", sans-serif' fill="#000" >0.4</text>
<text transform="translate(341.31,119.61) scale(1.0660,1)" font-size="8.99" font-family='"Liberation Sans", sans-serif' fill="#000" >Readout Strain</text>
<text transform="translate(315.56,97.23) rotate(-90) scale(1.0712,1)" font-size="8.91" font-family='"Liberation Sans", sans-serif' fill="#000" >Stress (Pa)</text>
<rect x="305.70" y="28.80" width="217.50" height="171.20" fill="none" stroke="#000" stroke-width="1.6"/>
<line x1="322.45" y1="200.00" x2="322.45" y2="196.40" stroke="#000" stroke-width="1.1" />
<line x1="322.45" y1="28.80" x2="322.45" y2="32.40" stroke="#000" stroke-width="1.1" />
<line x1="339.18" y1="200.00" x2="339.18" y2="196.40" stroke="#000" stroke-width="1.1" />
<line x1="339.18" y1="28.80" x2="339.18" y2="32.40" stroke="#000" stroke-width="1.1" />
<line x1="355.91" y1="200.00" x2="355.91" y2="196.40" stroke="#000" stroke-width="1.1" />
<line x1="355.91" y1="28.80" x2="355.91" y2="32.40" stroke="#000" stroke-width="1.1" />
<line x1="372.64" y1="200.00" x2="372.64" y2="196.40" stroke="#000" stroke-width="1.1" />
<line x1="372.64" y1="28.80" x2="372.64" y2="32.40" stroke="#000" stroke-width="1.1" />
<line x1="389.37" y1="200.00" x2="389.37" y2="196.40" stroke="#000" stroke-width="1.1" />
<line x1="389.37" y1="28.80" x2="389.37" y2="32.40" stroke="#000" stroke-width="1.1" />
<line x1="406.10" y1="200.00" x2="406.10" y2="196.40" stroke="#000" stroke-width="1.1" />
<line x1="406.10" y1="28.80" x2="406.10" y2="32.40" stroke="#000" stroke-width="1.1" />
<line x1="422.83" y1="200.00" x2="422.83" y2="196.40" stroke="#000" stroke-width="1.1" />
<line x1="422.83" y1="28.80" x2="422.83" y2="32.40" stroke="#000" stroke-width="1.1" />
<line x1="439.56" y1="200.00" x2="439.56" y2="196.40" stroke="#000" stroke-width="1.1" />
<line x1="439.56" y1="28.80" x2="439.56" y2="32.40" stroke="#000" stroke-width="1.1" />
<line x1="456.29" y1="200.00" x2="456.29" y2="196.40" stroke="#000" stroke-width="1.1" />
<line x1="456.29" y1="28.80" x2="456.29" y2="32.40" stroke="#000" stroke-width="1.1" />
<line x1="473.02" y1="200.00" x2="473.02" y2="196.40" stroke="#000" stroke-width="1.1" />
<line x1="473.02" y1="28.80" x2="473.02" y2="32.40" stroke="#000" stroke-width="1.1" />
<line x1="489.75" y1="200.00" x2="489.75" y2="196.40" stroke="#000" stroke-width="1.1" />
<line x1="489.75" y1="28.80" x2="489.75" y2="32.40" stroke="#000" stroke-width="1.1" />
<line x1="506.48" y1="200.00" x2="506.48" y2="196.40" stroke="#000" stroke-width="1.1" />
<line x1="506.48" y1="28.80" x2="506.48" y2="32.40" stroke="#000" stroke-width="1.1" />
<line x1="305.70" y1="175.40" x2="309.30" y2="175.40" stroke="#000" stroke-width="1.1" />
<line x1="523.20" y1="175.40" x2="519.60" y2="175.40" stroke="#000" stroke-width="1.1" />
<line x1="305.70" y1="150.90" x2="309.30" y2="150.90" stroke="#000" stroke-width="1.1" />
<line x1="523.20" y1="150.90" x2="519.60" y2="150.90" stroke="#000" stroke-width="1.1" />
<line x1="305.70" y1="126.40" x2="309.30" y2="126.40" stroke="#000" stroke-width="1.1" />
<line x1="523.20" y1="126.40" x2="519.60" y2="126.40" stroke="#000" stroke-width="1.1" />
<line x1="305.70" y1="101.90" x2="309.30" y2="101.90" stroke="#000" stroke-width="1.1" />
<line x1="523.20" y1="101.90" x2="519.60" y2="101.90" stroke="#000" stroke-width="1.1" />
<line x1="305.70" y1="77.40" x2="309.30" y2="77.40" stroke="#000" stroke-width="1.1" />
<line x1="523.20" y1="77.40" x2="519.60" y2="77.40" stroke="#000" stroke-width="1.1" />
<line x1="305.70" y1="52.90" x2="309.30" y2="52.90" stroke="#000" stroke-width="1.1" />
<line x1="523.20" y1="52.90" x2="519.60" y2="52.90" stroke="#000" stroke-width="1.1" />
<text transform="translate(290.79,215.64) scale(1.0000,1)" font-size="16.40" font-family='"Liberation Sans", sans-serif' fill="#000" >-0.6</text>
<text transform="translate(324.13,215.64) scale(1.0000,1)" font-size="16.40" font-family='"Liberation Sans", sans-serif' fill="#000" >-0.4</text>
<text transform="translate(357.76,215.64) scale(1.0000,1)" font-size="16.40" font-family='"Liberation Sans", sans-serif' fill="#000" >-0.2</text>
<text transform="translate(400.74,215.64) scale(1.0000,1)" font-size="16.40" font-family='"Liberation Sans", sans-serif' fill="#000" >0</text>
<text transform="translate(427.45,215.64) scale(1.0000,1)" font-size="16.40" font-family='"Liberation Sans", sans-serif' fill="#000" >0.2</text>
<text transform="translate(460.74,215.64) scale(1.0000,1)" font-size="16.40" font-family='"Liberation Sans", sans-serif' fill="#000" >0.4</text>
<text transform="translate(494.32,215.64) scale(1.0000,1)" font-size="16.40" font-family='"Liberation Sans", sans-serif' fill="#000" >0.6</text>
<text transform="translate(293.91,204.42) scale(0.9600,1)" font-size="16.90" font-family='"Liberation Sans", sans-serif' fill="#000" >0</text>
<text transform="translate(280.56,155.42) scale(0.9600,1)" font-size="16.90" font-family='"Liberation Sans", sans-serif' fill="#000" >0.2</text>
<text transform="translate(280.22,106.42) scale(0.9600,1)" font-size="16.90" font-family='"Liberation Sans", sans-serif' fill="#000" >0.4</text>
<text transform="translate(280.46,57.42) scale(0.9600,1)" font-size="16.90" font-family='"Liberation Sans", sans-serif' fill="#000" >0.6</text>
<text transform="translate(348.79,231.61) scale(1.0042,1)" font-size="19.60" font-family='"Liberation Sans", sans-serif' fill="#000" >Readout Strain</text>
<text transform="translate(277.20,141.00) rotate(-90) scale(0.9222,1)" font-size="18.63" font-family='"Liberation Serif", serif' font-style="italic" fill="#000" >K</text>
<text transform="translate(277.96,124.95) rotate(-90) scale(1.0353,1)" font-size="19.54" font-family='"Liberation Sans", sans-serif' fill="#000" >(Pa)</text>
<text transform="translate(445.70,49.80) scale(0.9670,1)" font-size="20.01" font-family='"Liberation Serif", serif' font-style="italic" fill="#000" >R</text>
<text transform="translate(457.76,55.81) scale(1.2629,1)" font-size="9.13" font-family='"Liberation Serif", serif' font-style="italic" fill="#000" >α</text>
<text transform="translate(464.06,49.31) scale(0.9667,1)" font-size="19.92" font-family='"Liberation Sans", sans-serif' fill="#000" >=0.2%</text>
<text transform="translate(271.84,259.06) scale(1.0079,1)" font-size="23.40" font-family='"Liberation Sans", sans-serif' fill="#000" >(d)</text>
<rect x="329.60" y="339.40" width="4.60" height="4.60" fill="#111"/>
<rect x="325.70" y="349.60" width="4.60" height="4.60" fill="#111"/>
<rect x="334.10" y="348.90" width="4.60" height="4.60" fill="#111"/>
<rect x="338.40" y="353.10" width="4.60" height="4.60" fill="#111"/>
<rect x="342.10" y="361.40" width="4.60" height="4.60" fill="#111"/>
<rect x="346.40" y="370.60" width="4.60" height="4.60" fill="#111"/>
<rect x="350.90" y="369.60" width="4.60" height="4.60" fill="#111"/>
<rect x="367.10" y="379.60" width="4.60" height="4.60" fill="#111"/>
<rect x="354.60" y="388.80" width="4.60" height="4.60" fill="#111"/>
<rect x="359.10" y="390.10" width="4.60" height="4.60" fill="#111"/>
<rect x="363.30" y="400.00" width="4.60" height="4.60" fill="#111"/>
<rect x="371.60" y="401.30" width="4.60" height="4.60" fill="#111"/>
<rect x="375.80" y="400.00" width="4.60" height="4.60" fill="#111"/>
<rect x="380.00" y="393.00" width="4.60" height="4.60" fill="#111"/>
<rect x="384.30" y="399.50" width="4.60" height="4.60" fill="#111"/>
<rect x="388.30" y="417.50" width="4.60" height="4.60" fill="#111"/>
<rect x="392.50" y="410.50" width="4.60" height="4.60" fill="#111"/>
<rect x="396.80" y="397.50" width="4.60" height="4.60" fill="#111"/>
<rect x="401.30" y="392.60" width="4.60" height="4.60" fill="#111"/>
<rect x="400.80" y="402.50" width="4.60" height="4.60" fill="#111"/>
<rect x="405.50" y="398.00" width="4.60" height="4.60" fill="#111"/>
<rect x="410.00" y="396.50" width="4.60" height="4.60" fill="#111"/>
<rect x="414.20" y="397.50" width="4.60" height="4.60" fill="#111"/>
<rect x="418.20" y="407.70" width="4.60" height="4.60" fill="#111"/>
<rect x="423.00" y="382.80" width="4.60" height="4.60" fill="#111"/>
<rect x="426.50" y="398.60" width="4.60" height="4.60" fill="#111"/>
<rect x="430.90" y="389.90" width="4.60" height="4.60" fill="#111"/>
<rect x="434.80" y="384.00" width="4.60" height="4.60" fill="#111"/>
<rect x="439.60" y="388.80" width="4.60" height="4.60" fill="#111"/>
<rect x="443.50" y="373.30" width="4.60" height="4.60" fill="#111"/>
<rect x="447.90" y="385.20" width="4.60" height="4.60" fill="#111"/>
<rect x="451.80" y="361.10" width="4.60" height="4.60" fill="#111"/>
<rect x="456.20" y="371.00" width="4.60" height="4.60" fill="#111"/>
<rect x="460.10" y="351.20" width="4.60" height="4.60" fill="#111"/>
<rect x="464.10" y="355.20" width="4.60" height="4.60" fill="#111"/>
<rect x="468.80" y="343.30" width="4.60" height="4.60" fill="#111"/>
<rect x="472.80" y="324.70" width="4.60" height="4.60" fill="#111"/>
<rect x="476.70" y="329.90" width="4.60" height="4.60" fill="#111"/>
<rect x="480.70" y="299.10" width="4.60" height="4.60" fill="#111"/>
<line x1="405.60" y1="263.70" x2="405.60" y2="434.60" stroke="#000" stroke-width="1.6" />
<rect x="336.00" y="267.90" width="74.00" height="58.20" fill="#fff"/>
<line x1="373.00" y1="267.90" x2="373.00" y2="326.10" stroke="#000" stroke-width="1.3" />
<line x1="336.00" y1="297.20" x2="410.00" y2="297.20" stroke="#000" stroke-width="1.3" />
<line x1="342.15" y1="326.10" x2="342.15" y2="324.30" stroke="#000" stroke-width="0.8" />
<line x1="342.15" y1="267.90" x2="342.15" y2="269.70" stroke="#000" stroke-width="0.8" />
<line x1="348.32" y1="326.10" x2="348.32" y2="324.30" stroke="#000" stroke-width="0.8" />
<line x1="348.32" y1="267.90" x2="348.32" y2="269.70" stroke="#000" stroke-width="0.8" />
<line x1="354.49" y1="326.10" x2="354.49" y2="324.30" stroke="#000" stroke-width="0.8" />
<line x1="354.49" y1="267.90" x2="354.49" y2="269.70" stroke="#000" stroke-width="0.8" />
<line x1="360.66" y1="326.10" x2="360.66" y2="324.30" stroke="#000" stroke-width="0.8" />
<line x1="360.66" y1="267.90" x2="360.66" y2="269.70" stroke="#000" stroke-width="0.8" />
<line x1="366.83" y1="326.10" x2="366.83" y2="324.30" stroke="#000" stroke-width="0.8" />
<line x1="366.83" y1="267.90" x2="366.83" y2="269.70" stroke="#000" stroke-width="0.8" />
<line x1="373.00" y1="326.10" x2="373.00" y2="324.30" stroke="#000" stroke-width="0.8" />
<line x1="373.00" y1="267.90" x2="373.00" y2="269.70" stroke="#000" stroke-width="0.8" />
<line x1="379.17" y1="326.10" x2="379.17" y2="324.30" stroke="#000" stroke-width="0.8" />
<line x1="379.17" y1="267.90" x2="379.17" y2="269.70" stroke="#000" stroke-width="0.8" />
<line x1="385.34" y1="326.10" x2="385.34" y2="324.30" stroke="#000" stroke-width="0.8" />
<line x1="385.34" y1="267.90" x2="385.34" y2="269.70" stroke="#000" stroke-width="0.8" />
<line x1="391.51" y1="326.10" x2="391.51" y2="324.30" stroke="#000" stroke-width="0.8" />
<line x1="391.51" y1="267.90" x2="391.51" y2="269.70" stroke="#000" stroke-width="0.8" />
<line x1="397.68" y1="326.10" x2="397.68" y2="324.30" stroke="#000" stroke-width="0.8" />
<line x1="397.68" y1="267.90" x2="397.68" y2="269.70" stroke="#000" stroke-width="0.8" />
<line x1="403.85" y1="326.10" x2="403.85" y2="324.30" stroke="#000" stroke-width="0.8" />
<line x1="403.85" y1="267.90" x2="403.85" y2="269.70" stroke="#000" stroke-width="0.8" />
<line x1="336.00" y1="322.10" x2="337.80" y2="322.10" stroke="#000" stroke-width="0.8" />
<line x1="410.00" y1="322.10" x2="408.20" y2="322.10" stroke="#000" stroke-width="0.8" />
<line x1="336.00" y1="317.95" x2="337.80" y2="317.95" stroke="#000" stroke-width="0.8" />
<line x1="410.00" y1="317.95" x2="408.20" y2="317.95" stroke="#000" stroke-width="0.8" />
<line x1="336.00" y1="313.80" x2="337.80" y2="313.80" stroke="#000" stroke-width="0.8" />
<line x1="410.00" y1="313.80" x2="408.20" y2="313.80" stroke="#000" stroke-width="0.8" />
<line x1="336.00" y1="309.65" x2="337.80" y2="309.65" stroke="#000" stroke-width="0.8" />
<line x1="410.00" y1="309.65" x2="408.20" y2="309.65" stroke="#000" stroke-width="0.8" />
<line x1="336.00" y1="305.50" x2="337.80" y2="305.50" stroke="#000" stroke-width="0.8" />
<line x1="410.00" y1="305.50" x2="408.20" y2="305.50" stroke="#000" stroke-width="0.8" />
<line x1="336.00" y1="301.35" x2="337.80" y2="301.35" stroke="#000" stroke-width="0.8" />
<line x1="410.00" y1="301.35" x2="408.20" y2="301.35" stroke="#000" stroke-width="0.8" />
<line x1="336.00" y1="297.20" x2="337.80" y2="297.20" stroke="#000" stroke-width="0.8" />
<line x1="410.00" y1="297.20" x2="408.20" y2="297.20" stroke="#000" stroke-width="0.8" />
<line x1="336.00" y1="293.05" x2="337.80" y2="293.05" stroke="#000" stroke-width="0.8" />
<line x1="410.00" y1="293.05" x2="408.20" y2="293.05" stroke="#000" stroke-width="0.8" />
<line x1="336.00" y1="288.90" x2="337.80" y2="288.90" stroke="#000" stroke-width="0.8" />
<line x1="410.00" y1="288.90" x2="408.20" y2="288.90" stroke="#000" stroke-width="0.8" />
<line x1="336.00" y1="284.75" x2="337.80" y2="284.75" stroke="#000" stroke-width="0.8" />
<line x1="410.00" y1="284.75" x2="408.20" y2="284.75" stroke="#000" stroke-width="0.8" />
<line x1="336.00" y1="280.60" x2="337.80" y2="280.60" stroke="#000" stroke-width="0.8" />
<line x1="410.00" y1="280.60" x2="408.20" y2="280.60" stroke="#000" stroke-width="0.8" />
<line x1="336.00" y1="276.45" x2="337.80" y2="276.45" stroke="#000" stroke-width="0.8" />
<line x1="410.00" y1="276.45" x2="408.20" y2="276.45" stroke="#000" stroke-width="0.8" />
<line x1="336.00" y1="272.30" x2="337.80" y2="272.30" stroke="#000" stroke-width="0.8" />
<line x1="410.00" y1="272.30" x2="408.20" y2="272.30" stroke="#000" stroke-width="0.8" />
<path d="M343.40,314.30 C344.18,313.20 346.08,309.57 348.10,307.70 C350.12,305.83 352.70,304.50 355.50,303.10 C358.30,301.70 362.02,300.40 364.90,299.30 C367.78,298.20 370.00,297.43 372.80,296.50 C375.60,295.57 378.65,294.78 381.70,293.70 C384.75,292.62 388.28,291.72 391.10,290.00 C393.92,288.28 396.57,285.43 398.60,283.40 C400.63,281.37 402.52,278.73 403.30,277.80" fill="none" stroke="#000" stroke-width="1.6" stroke-linejoin="round" stroke-linecap="butt" />
<path d="M343.40,314.30 C344.18,313.67 345.77,311.97 348.10,310.50 C350.43,309.03 354.28,307.05 357.40,305.50 C360.52,303.95 364.23,302.38 366.80,301.20 C369.37,300.02 370.00,299.33 372.80,298.40 C375.60,297.47 380.23,296.70 383.60,295.60 C386.97,294.50 390.18,293.52 393.00,291.80 C395.82,290.08 398.78,287.63 400.50,285.30 C402.22,282.97 402.83,279.05 403.30,277.80" fill="none" stroke="#000" stroke-width="1.6" stroke-linejoin="round" stroke-linecap="butt" />
<rect x="336.00" y="267.90" width="74.00" height="58.20" fill="none" stroke="#000" stroke-width="1.3"/>
<text transform="translate(321.39,275.54) scale(1.0600,1)" font-size="9.40" font-family='"Liberation Sans", sans-serif' fill="#000" >0.6</text>
<text transform="translate(321.39,287.99) scale(1.0600,1)" font-size="9.40" font-family='"Liberation Sans", sans-serif' fill="#000" >0.3</text>
<text transform="translate(329.65,300.44) scale(1.0600,1)" font-size="9.40" font-family='"Liberation Sans", sans-serif' fill="#000" >0</text>
<text transform="translate(318.07,312.89) scale(1.0600,1)" font-size="9.40" font-family='"Liberation Sans", sans-serif' fill="#000" >-0.3</text>
<text transform="translate(318.07,325.34) scale(1.0600,1)" font-size="9.40" font-family='"Liberation Sans", sans-serif' fill="#000" >-0.6</text>
<text transform="translate(339.66,335.01) scale(1.0600,1)" font-size="9.40" font-family='"Liberation Sans", sans-serif' fill="#000" >-0.4</text>
<text transform="translate(370.23,335.01) scale(1.0600,1)" font-size="9.40" font-family='"Liberation Sans", sans-serif' fill="#000" >0</text>
<text transform="translate(390.71,335.01) scale(1.0600,1)" font-size="9.40" font-family='"Liberation Sans", sans-serif' fill="#000" >0.4</text>
<text transform="translate(340.30,343.61) scale(1.0830,1)" font-size="8.99" font-family='"Liberation Sans", sans-serif' fill="#000" >Readout Strain</text>
<text transform="translate(318.68,320.64) rotate(-90) scale(1.0982,1)" font-size="8.80" font-family='"Liberation Sans", sans-serif' fill="#000" >Stress (Pa)</text>
<rect x="305.45" y="263.70" width="217.05" height="170.90" fill="none" stroke="#000" stroke-width="1.6"/>
<line x1="322.12" y1="434.60" x2="322.12" y2="431.00" stroke="#000" stroke-width="1.1" />
<line x1="322.12" y1="263.70" x2="322.12" y2="267.30" stroke="#000" stroke-width="1.1" />
<line x1="338.82" y1="434.60" x2="338.82" y2="431.00" stroke="#000" stroke-width="1.1" />
<line x1="338.82" y1="263.70" x2="338.82" y2="267.30" stroke="#000" stroke-width="1.1" />
<line x1="355.51" y1="434.60" x2="355.51" y2="431.00" stroke="#000" stroke-width="1.1" />
<line x1="355.51" y1="263.70" x2="355.51" y2="267.30" stroke="#000" stroke-width="1.1" />
<line x1="372.21" y1="434.60" x2="372.21" y2="431.00" stroke="#000" stroke-width="1.1" />
<line x1="372.21" y1="263.70" x2="372.21" y2="267.30" stroke="#000" stroke-width="1.1" />
<line x1="388.90" y1="434.60" x2="388.90" y2="431.00" stroke="#000" stroke-width="1.1" />
<line x1="388.90" y1="263.70" x2="388.90" y2="267.30" stroke="#000" stroke-width="1.1" />
<line x1="405.60" y1="434.60" x2="405.60" y2="431.00" stroke="#000" stroke-width="1.1" />
<line x1="405.60" y1="263.70" x2="405.60" y2="267.30" stroke="#000" stroke-width="1.1" />
<line x1="422.30" y1="434.60" x2="422.30" y2="431.00" stroke="#000" stroke-width="1.1" />
<line x1="422.30" y1="263.70" x2="422.30" y2="267.30" stroke="#000" stroke-width="1.1" />
<line x1="438.99" y1="434.60" x2="438.99" y2="431.00" stroke="#000" stroke-width="1.1" />
<line x1="438.99" y1="263.70" x2="438.99" y2="267.30" stroke="#000" stroke-width="1.1" />
<line x1="455.69" y1="434.60" x2="455.69" y2="431.00" stroke="#000" stroke-width="1.1" />
<line x1="455.69" y1="263.70" x2="455.69" y2="267.30" stroke="#000" stroke-width="1.1" />
<line x1="472.38" y1="434.60" x2="472.38" y2="431.00" stroke="#000" stroke-width="1.1" />
<line x1="472.38" y1="263.70" x2="472.38" y2="267.30" stroke="#000" stroke-width="1.1" />
<line x1="489.08" y1="434.60" x2="489.08" y2="431.00" stroke="#000" stroke-width="1.1" />
<line x1="489.08" y1="263.70" x2="489.08" y2="267.30" stroke="#000" stroke-width="1.1" />
<line x1="505.78" y1="434.60" x2="505.78" y2="431.00" stroke="#000" stroke-width="1.1" />
<line x1="505.78" y1="263.70" x2="505.78" y2="267.30" stroke="#000" stroke-width="1.1" />
<line x1="305.45" y1="400.50" x2="309.05" y2="400.50" stroke="#000" stroke-width="1.1" />
<line x1="522.50" y1="400.50" x2="518.90" y2="400.50" stroke="#000" stroke-width="1.1" />
<line x1="305.45" y1="366.50" x2="309.05" y2="366.50" stroke="#000" stroke-width="1.1" />
<line x1="522.50" y1="366.50" x2="518.90" y2="366.50" stroke="#000" stroke-width="1.1" />
<line x1="305.45" y1="332.50" x2="309.05" y2="332.50" stroke="#000" stroke-width="1.1" />
<line x1="522.50" y1="332.50" x2="518.90" y2="332.50" stroke="#000" stroke-width="1.1" />
<line x1="305.45" y1="298.50" x2="309.05" y2="298.50" stroke="#000" stroke-width="1.1" />
<line x1="522.50" y1="298.50" x2="518.90" y2="298.50" stroke="#000" stroke-width="1.1" />
<text transform="translate(290.49,453.44) scale(1.0000,1)" font-size="16.40" font-family='"Liberation Sans", sans-serif' fill="#000" >-0.6</text>
<text transform="translate(323.76,453.44) scale(1.0000,1)" font-size="16.40" font-family='"Liberation Sans", sans-serif' fill="#000" >-0.4</text>
<text transform="translate(357.33,453.44) scale(1.0000,1)" font-size="16.40" font-family='"Liberation Sans", sans-serif' fill="#000" >-0.2</text>
<text transform="translate(400.24,453.44) scale(1.0000,1)" font-size="16.40" font-family='"Liberation Sans", sans-serif' fill="#000" >0</text>
<text transform="translate(426.88,453.44) scale(1.0000,1)" font-size="16.40" font-family='"Liberation Sans", sans-serif' fill="#000" >0.2</text>
<text transform="translate(460.10,453.44) scale(1.0000,1)" font-size="16.40" font-family='"Liberation Sans", sans-serif' fill="#000" >0.4</text>
<text transform="translate(493.62,453.44) scale(1.0000,1)" font-size="16.40" font-family='"Liberation Sans", sans-serif' fill="#000" >0.6</text>
<text transform="translate(293.71,439.35) scale(0.9600,1)" font-size="16.70" font-family='"Liberation Sans", sans-serif' fill="#000" >0</text>
<text transform="translate(293.87,371.34) scale(0.9600,1)" font-size="16.70" font-family='"Liberation Sans", sans-serif' fill="#000" >1</text>
<text transform="translate(293.89,303.43) scale(0.9600,1)" font-size="16.70" font-family='"Liberation Sans", sans-serif' fill="#000" >2</text>
<text transform="translate(349.10,471.41) scale(1.0014,1)" font-size="19.50" font-family='"Liberation Sans", sans-serif' fill="#000" >Readout Strain</text>
<text transform="translate(286.80,376.00) rotate(-90) scale(0.9222,1)" font-size="18.63" font-family='"Liberation Serif", serif' font-style="italic" fill="#000" >K</text>
<text transform="translate(287.16,359.95) rotate(-90) scale(1.0353,1)" font-size="19.54" font-family='"Liberation Sans", sans-serif' fill="#000" >(Pa)</text>
<text transform="translate(445.70,286.10) scale(0.9503,1)" font-size="20.01" font-family='"Liberation Serif", serif' font-style="italic" fill="#000" >R</text>
<text transform="translate(457.46,291.81) scale(1.2922,1)" font-size="8.92" font-family='"Liberation Serif", serif' font-style="italic" fill="#000" >α</text>
<text transform="translate(464.05,285.30) scale(0.9653,1)" font-size="20.06" font-family='"Liberation Sans", sans-serif' fill="#000" >=0.5%</text>
<text transform="translate(534.05,18.86) scale(1.0002,1)" font-size="23.40" font-family='"Liberation Sans", sans-serif' fill="#000" >(e)</text>
<text transform="translate(625.61,24.01) scale(0.9915,1)" font-size="19.74" font-family='"Liberation Sans", sans-serif' fill="#000" >Simulations</text>
<line x1="570.00" y1="122.00" x2="782.40" y2="122.00" stroke="#000" stroke-width="1.5" />
<path d="M607.97,122.00 C610.63,116.75 619.41,99.35 623.91,90.47 C628.42,81.60 631.35,74.56 635.02,68.73 C638.69,62.91 643.05,58.51 645.94,55.53 C648.83,52.56 650.21,51.05 652.37,50.87 C654.53,50.69 656.91,52.01 658.90,54.44 C660.90,56.88 662.87,61.98 664.35,65.47 C665.82,68.97 666.64,72.07 667.75,75.41 C668.86,78.75 669.93,82.53 671.03,85.50 C672.13,88.48 672.61,90.91 674.35,93.27 C676.09,95.62 678.74,98.06 681.46,99.64 C684.19,101.22 687.12,102.12 690.71,102.74 C694.29,103.36 698.69,103.11 702.98,103.36 C707.27,103.62 712.03,103.23 716.45,104.30 C720.87,105.36 725.58,107.79 729.50,109.73 C733.42,111.67 736.57,113.56 739.99,115.94 C743.40,118.32 746.51,120.89 749.98,124.02 C753.45,127.15 758.99,132.95 760.79,134.73" fill="none" stroke="#000" stroke-width="1.6" stroke-dasharray="11,6" stroke-linejoin="round" stroke-linecap="butt" />
<line x1="607.60" y1="47.70" x2="607.60" y2="196.00" stroke="#111" stroke-width="1.5" />
<line x1="604.80" y1="47.70" x2="610.40" y2="47.70" stroke="#111" stroke-width="1.5" />
<line x1="604.80" y1="196.00" x2="610.40" y2="196.00" stroke="#111" stroke-width="1.5" />
<rect x="605.10" y="119.50" width="5.00" height="5.00" fill="#111"/>
<line x1="634.00" y1="52.40" x2="634.00" y2="114.90" stroke="#111" stroke-width="1.5" />
<line x1="631.20" y1="52.40" x2="636.80" y2="52.40" stroke="#111" stroke-width="1.5" />
<line x1="631.20" y1="114.90" x2="636.80" y2="114.90" stroke="#111" stroke-width="1.5" />
<rect x="631.50" y="81.30" width="5.00" height="5.00" fill="#111"/>
<line x1="654.50" y1="33.00" x2="654.50" y2="69.40" stroke="#111" stroke-width="1.5" />
<line x1="651.70" y1="33.00" x2="657.30" y2="33.00" stroke="#111" stroke-width="1.5" />
<line x1="651.70" y1="69.40" x2="657.30" y2="69.40" stroke="#111" stroke-width="1.5" />
<rect x="652.00" y="48.00" width="5.00" height="5.00" fill="#111"/>
<line x1="671.20" y1="77.50" x2="671.20" y2="125.40" stroke="#111" stroke-width="1.5" />
<line x1="668.40" y1="77.50" x2="674.00" y2="77.50" stroke="#111" stroke-width="1.5" />
<line x1="668.40" y1="125.40" x2="674.00" y2="125.40" stroke="#111" stroke-width="1.5" />
<rect x="668.70" y="99.10" width="5.00" height="5.00" fill="#111"/>
<line x1="685.30" y1="81.70" x2="685.30" y2="109.00" stroke="#111" stroke-width="1.5" />
<line x1="682.50" y1="81.70" x2="688.10" y2="81.70" stroke="#111" stroke-width="1.5" />
<line x1="682.50" y1="109.00" x2="688.10" y2="109.00" stroke="#111" stroke-width="1.5" />
<rect x="682.80" y="93.10" width="5.00" height="5.00" fill="#111"/>
<line x1="697.80" y1="84.00" x2="697.80" y2="116.00" stroke="#111" stroke-width="1.5" />
<line x1="695.00" y1="84.00" x2="700.60" y2="84.00" stroke="#111" stroke-width="1.5" />
<line x1="695.00" y1="116.00" x2="700.60" y2="116.00" stroke="#111" stroke-width="1.5" />
<rect x="695.30" y="98.00" width="5.00" height="5.00" fill="#111"/>
<line x1="708.70" y1="86.40" x2="708.70" y2="121.50" stroke="#111" stroke-width="1.5" />
<line x1="705.90" y1="86.40" x2="711.50" y2="86.40" stroke="#111" stroke-width="1.5" />
<line x1="705.90" y1="121.50" x2="711.50" y2="121.50" stroke="#111" stroke-width="1.5" />
<rect x="706.20" y="102.00" width="5.00" height="5.00" fill="#111"/>
<line x1="718.80" y1="80.60" x2="718.80" y2="119.60" stroke="#111" stroke-width="1.5" />
<line x1="716.00" y1="80.60" x2="721.60" y2="80.60" stroke="#111" stroke-width="1.5" />
<line x1="716.00" y1="119.60" x2="721.60" y2="119.60" stroke="#111" stroke-width="1.5" />
<rect x="716.30" y="97.80" width="5.00" height="5.00" fill="#111"/>
<line x1="727.40" y1="96.80" x2="727.40" y2="120.20" stroke="#111" stroke-width="1.5" />
<line x1="724.60" y1="96.80" x2="730.20" y2="96.80" stroke="#111" stroke-width="1.5" />
<line x1="724.60" y1="120.20" x2="730.20" y2="120.20" stroke="#111" stroke-width="1.5" />
<rect x="724.90" y="105.90" width="5.00" height="5.00" fill="#111"/>
<line x1="735.50" y1="96.50" x2="735.50" y2="130.80" stroke="#111" stroke-width="1.5" />
<line x1="732.70" y1="96.50" x2="738.30" y2="96.50" stroke="#111" stroke-width="1.5" />
<line x1="732.70" y1="130.80" x2="738.30" y2="130.80" stroke="#111" stroke-width="1.5" />
<rect x="733.00" y="111.40" width="5.00" height="5.00" fill="#111"/>
<line x1="742.70" y1="108.20" x2="742.70" y2="125.40" stroke="#111" stroke-width="1.5" />
<line x1="739.90" y1="108.20" x2="745.50" y2="108.20" stroke="#111" stroke-width="1.5" />
<line x1="739.90" y1="125.40" x2="745.50" y2="125.40" stroke="#111" stroke-width="1.5" />
<rect x="740.20" y="115.10" width="5.00" height="5.00" fill="#111"/>
<line x1="749.70" y1="110.90" x2="749.70" y2="136.30" stroke="#111" stroke-width="1.5" />
<line x1="746.90" y1="110.90" x2="752.50" y2="110.90" stroke="#111" stroke-width="1.5" />
<line x1="746.90" y1="136.30" x2="752.50" y2="136.30" stroke="#111" stroke-width="1.5" />
<rect x="747.20" y="121.00" width="5.00" height="5.00" fill="#111"/>
<line x1="756.70" y1="123.80" x2="756.70" y2="141.00" stroke="#111" stroke-width="1.5" />
<line x1="753.90" y1="123.80" x2="759.50" y2="123.80" stroke="#111" stroke-width="1.5" />
<line x1="753.90" y1="141.00" x2="759.50" y2="141.00" stroke="#111" stroke-width="1.5" />
<rect x="754.20" y="129.90" width="5.00" height="5.00" fill="#111"/>
<rect x="570.00" y="28.00" width="212.40" height="172.40" fill="none" stroke="#000" stroke-width="1.6"/>
<line x1="570.82" y1="200.40" x2="570.82" y2="198.00" stroke="#000" stroke-width="1.1" />
<line x1="570.82" y1="28.00" x2="570.82" y2="30.40" stroke="#000" stroke-width="1.1" />
<line x1="607.97" y1="200.40" x2="607.97" y2="198.00" stroke="#000" stroke-width="1.1" />
<line x1="607.97" y1="28.00" x2="607.97" y2="30.40" stroke="#000" stroke-width="1.1" />
<line x1="634.33" y1="200.40" x2="634.33" y2="198.00" stroke="#000" stroke-width="1.1" />
<line x1="634.33" y1="28.00" x2="634.33" y2="30.40" stroke="#000" stroke-width="1.1" />
<line x1="654.78" y1="200.40" x2="654.78" y2="198.00" stroke="#000" stroke-width="1.1" />
<line x1="654.78" y1="28.00" x2="654.78" y2="30.40" stroke="#000" stroke-width="1.1" />
<line x1="671.49" y1="200.40" x2="671.49" y2="198.00" stroke="#000" stroke-width="1.1" />
<line x1="671.49" y1="28.00" x2="671.49" y2="30.40" stroke="#000" stroke-width="1.1" />
<line x1="685.62" y1="200.40" x2="685.62" y2="198.00" stroke="#000" stroke-width="1.1" />
<line x1="685.62" y1="28.00" x2="685.62" y2="30.40" stroke="#000" stroke-width="1.1" />
<line x1="697.85" y1="200.40" x2="697.85" y2="198.00" stroke="#000" stroke-width="1.1" />
<line x1="697.85" y1="28.00" x2="697.85" y2="30.40" stroke="#000" stroke-width="1.1" />
<line x1="708.65" y1="200.40" x2="708.65" y2="198.00" stroke="#000" stroke-width="1.1" />
<line x1="708.65" y1="28.00" x2="708.65" y2="30.40" stroke="#000" stroke-width="1.1" />
<line x1="781.82" y1="200.40" x2="781.82" y2="198.00" stroke="#000" stroke-width="1.1" />
<line x1="781.82" y1="28.00" x2="781.82" y2="30.40" stroke="#000" stroke-width="1.1" />
<line x1="718.30" y1="200.40" x2="718.30" y2="196.60" stroke="#000" stroke-width="1.1" />
<line x1="718.30" y1="28.00" x2="718.30" y2="31.80" stroke="#000" stroke-width="1.1" />
<line x1="570.00" y1="191.88" x2="573.60" y2="191.88" stroke="#000" stroke-width="1.1" />
<line x1="782.40" y1="191.88" x2="778.80" y2="191.88" stroke="#000" stroke-width="1.1" />
<line x1="570.00" y1="168.59" x2="573.60" y2="168.59" stroke="#000" stroke-width="1.1" />
<line x1="782.40" y1="168.59" x2="778.80" y2="168.59" stroke="#000" stroke-width="1.1" />
<line x1="570.00" y1="145.30" x2="573.60" y2="145.30" stroke="#000" stroke-width="1.1" />
<line x1="782.40" y1="145.30" x2="778.80" y2="145.30" stroke="#000" stroke-width="1.1" />
<line x1="570.00" y1="98.70" x2="573.60" y2="98.70" stroke="#000" stroke-width="1.1" />
<line x1="782.40" y1="98.70" x2="778.80" y2="98.70" stroke="#000" stroke-width="1.1" />
<line x1="570.00" y1="75.41" x2="573.60" y2="75.41" stroke="#000" stroke-width="1.1" />
<line x1="782.40" y1="75.41" x2="778.80" y2="75.41" stroke="#000" stroke-width="1.1" />
<line x1="570.00" y1="52.11" x2="573.60" y2="52.11" stroke="#000" stroke-width="1.1" />
<line x1="782.40" y1="52.11" x2="778.80" y2="52.11" stroke="#000" stroke-width="1.1" />
<text transform="translate(709.29,215.84) scale(1.0000,1)" font-size="16.80" font-family='"Liberation Sans", sans-serif' fill="#000" >10</text>
<text transform="translate(545.50,32.66) scale(0.9800,1)" font-size="16.60" font-family='"Liberation Sans", sans-serif' fill="#000" >0.6</text>
<text transform="translate(545.50,79.97) scale(0.9800,1)" font-size="16.60" font-family='"Liberation Sans", sans-serif' fill="#000" >0.3</text>
<text transform="translate(558.99,126.56) scale(0.9800,1)" font-size="16.60" font-family='"Liberation Sans", sans-serif' fill="#000" >0</text>
<text transform="translate(540.08,173.15) scale(0.9800,1)" font-size="16.60" font-family='"Liberation Sans", sans-serif' fill="#000" >-0.3</text>
<text transform="translate(586.80,231.23) scale(1.0039,1)" font-size="19.64" font-family='"Liberation Sans", sans-serif' fill="#000" >Concentration (μm</text>
<text transform="translate(748.24,225.90) scale(1.1440,1)" font-size="9.02" font-family='"Liberation Sans", sans-serif' fill="#000" >-2</text>
<text transform="translate(759.30,231.23) scale(0.8641,1)" font-size="19.64" font-family='"Liberation Sans", sans-serif' fill="#000" >)</text>
<text transform="translate(551.30,123.24) rotate(-90) scale(0.9706,1)" font-size="20.45" font-family='"Liberation Serif", serif' font-style="italic" fill="#000" >ΔK</text>
<text transform="translate(550.18,99.02) scale(1.0954,1)" font-size="11.65" font-family='"Liberation Sans", sans-serif' fill="#999" >+</text>
<text transform="translate(536.91,259.06) scale(1.0269,1)" font-size="23.40" font-family='"Liberation Sans", sans-serif' fill="#000" >(f)</text>
<text transform="translate(627.01,259.11) scale(1.0094,1)" font-size="19.34" font-family='"Liberation Sans", sans-serif' fill="#000" >Simulations</text>
<line x1="569.40" y1="365.90" x2="780.60" y2="365.90" stroke="#000" stroke-width="1.5" />
<line x1="598.30" y1="374.50" x2="606.60" y2="374.50" stroke="#35309d" stroke-width="1.4" />
<line x1="598.30" y1="372.10" x2="598.30" y2="376.90" stroke="#35309d" stroke-width="1.4" />
<line x1="606.60" y1="372.10" x2="606.60" y2="376.90" stroke="#35309d" stroke-width="1.4" />
<line x1="602.50" y1="368.30" x2="602.50" y2="382.80" stroke="#35309d" stroke-width="1.4" />
<line x1="599.90" y1="368.30" x2="605.10" y2="368.30" stroke="#35309d" stroke-width="1.4" />
<line x1="599.90" y1="382.80" x2="605.10" y2="382.80" stroke="#35309d" stroke-width="1.4" />
<rect x="600.10" y="372.10" width="4.80" height="4.80" fill="#35309d"/>
<line x1="602.50" y1="370.30" x2="611.00" y2="370.30" stroke="#45309a" stroke-width="1.4" />
<line x1="602.50" y1="367.90" x2="602.50" y2="372.70" stroke="#45309a" stroke-width="1.4" />
<line x1="611.00" y1="367.90" x2="611.00" y2="372.70" stroke="#45309a" stroke-width="1.4" />
<line x1="606.50" y1="363.50" x2="606.50" y2="378.70" stroke="#45309a" stroke-width="1.4" />
<line x1="603.90" y1="363.50" x2="609.10" y2="363.50" stroke="#45309a" stroke-width="1.4" />
<line x1="603.90" y1="378.70" x2="609.10" y2="378.70" stroke="#45309a" stroke-width="1.4" />
<rect x="604.10" y="367.90" width="4.80" height="4.80" fill="#45309a"/>
<line x1="605.60" y1="361.50" x2="612.30" y2="361.50" stroke="#542e93" stroke-width="1.4" />
<line x1="605.60" y1="359.10" x2="605.60" y2="363.90" stroke="#542e93" stroke-width="1.4" />
<line x1="612.30" y1="359.10" x2="612.30" y2="363.90" stroke="#542e93" stroke-width="1.4" />
<line x1="608.70" y1="356.80" x2="608.70" y2="366.20" stroke="#542e93" stroke-width="1.4" />
<line x1="606.10" y1="356.80" x2="611.30" y2="356.80" stroke="#542e93" stroke-width="1.4" />
<line x1="606.10" y1="366.20" x2="611.30" y2="366.20" stroke="#542e93" stroke-width="1.4" />
<rect x="606.30" y="359.10" width="4.80" height="4.80" fill="#542e93"/>
<line x1="610.80" y1="360.00" x2="618.10" y2="360.00" stroke="#632c8a" stroke-width="1.4" />
<line x1="610.80" y1="357.60" x2="610.80" y2="362.40" stroke="#632c8a" stroke-width="1.4" />
<line x1="618.10" y1="357.60" x2="618.10" y2="362.40" stroke="#632c8a" stroke-width="1.4" />
<line x1="614.40" y1="354.20" x2="614.40" y2="374.50" stroke="#632c8a" stroke-width="1.4" />
<line x1="611.80" y1="354.20" x2="617.00" y2="354.20" stroke="#632c8a" stroke-width="1.4" />
<line x1="611.80" y1="374.50" x2="617.00" y2="374.50" stroke="#632c8a" stroke-width="1.4" />
<rect x="612.00" y="357.60" width="4.80" height="4.80" fill="#632c8a"/>
<line x1="615.00" y1="354.30" x2="627.10" y2="354.30" stroke="#722981" stroke-width="1.4" />
<line x1="615.00" y1="351.90" x2="615.00" y2="356.70" stroke="#722981" stroke-width="1.4" />
<line x1="627.10" y1="351.90" x2="627.10" y2="356.70" stroke="#722981" stroke-width="1.4" />
<line x1="621.00" y1="343.80" x2="621.00" y2="365.10" stroke="#722981" stroke-width="1.4" />
<line x1="618.40" y1="343.80" x2="623.60" y2="343.80" stroke="#722981" stroke-width="1.4" />
<line x1="618.40" y1="365.10" x2="623.60" y2="365.10" stroke="#722981" stroke-width="1.4" />
<rect x="618.60" y="351.90" width="4.80" height="4.80" fill="#722981"/>
<line x1="624.60" y1="347.40" x2="655.40" y2="347.40" stroke="#7e2778" stroke-width="1.4" />
<line x1="624.60" y1="345.00" x2="624.60" y2="349.80" stroke="#7e2778" stroke-width="1.4" />
<line x1="655.40" y1="345.00" x2="655.40" y2="349.80" stroke="#7e2778" stroke-width="1.4" />
<line x1="640.30" y1="330.30" x2="640.30" y2="363.40" stroke="#7e2778" stroke-width="1.4" />
<line x1="637.70" y1="330.30" x2="642.90" y2="330.30" stroke="#7e2778" stroke-width="1.4" />
<line x1="637.70" y1="363.40" x2="642.90" y2="363.40" stroke="#7e2778" stroke-width="1.4" />
<rect x="637.90" y="345.00" width="4.80" height="4.80" fill="#7e2778"/>
<line x1="640.00" y1="349.10" x2="654.00" y2="349.10" stroke="#8a256f" stroke-width="1.4" />
<line x1="640.00" y1="346.70" x2="640.00" y2="351.50" stroke="#8a256f" stroke-width="1.4" />
<line x1="654.00" y1="346.70" x2="654.00" y2="351.50" stroke="#8a256f" stroke-width="1.4" />
<line x1="646.90" y1="335.40" x2="646.90" y2="365.70" stroke="#8a256f" stroke-width="1.4" />
<line x1="644.30" y1="335.40" x2="649.50" y2="335.40" stroke="#8a256f" stroke-width="1.4" />
<line x1="644.30" y1="365.70" x2="649.50" y2="365.70" stroke="#8a256f" stroke-width="1.4" />
<rect x="644.50" y="346.70" width="4.80" height="4.80" fill="#8a256f"/>
<line x1="635.00" y1="347.40" x2="663.40" y2="347.40" stroke="#b56574" stroke-width="1.4" />
<line x1="635.00" y1="345.00" x2="635.00" y2="349.80" stroke="#b56574" stroke-width="1.4" />
<line x1="663.40" y1="345.00" x2="663.40" y2="349.80" stroke="#b56574" stroke-width="1.4" />
<line x1="648.30" y1="333.10" x2="648.30" y2="360.60" stroke="#b56574" stroke-width="1.4" />
<line x1="645.70" y1="333.10" x2="650.90" y2="333.10" stroke="#b56574" stroke-width="1.4" />
<line x1="645.70" y1="360.60" x2="650.90" y2="360.60" stroke="#b56574" stroke-width="1.4" />
<rect x="645.90" y="345.00" width="4.80" height="4.80" fill="#b56574"/>
<line x1="641.70" y1="342.90" x2="676.00" y2="342.90" stroke="#c55962" stroke-width="1.4" />
<line x1="641.70" y1="340.50" x2="641.70" y2="345.30" stroke="#c55962" stroke-width="1.4" />
<line x1="676.00" y1="340.50" x2="676.00" y2="345.30" stroke="#c55962" stroke-width="1.4" />
<line x1="658.90" y1="331.20" x2="658.90" y2="354.90" stroke="#c55962" stroke-width="1.4" />
<line x1="656.30" y1="331.20" x2="661.50" y2="331.20" stroke="#c55962" stroke-width="1.4" />
<line x1="656.30" y1="354.90" x2="661.50" y2="354.90" stroke="#c55962" stroke-width="1.4" />
<rect x="656.50" y="340.50" width="4.80" height="4.80" fill="#c55962"/>
<line x1="656.60" y1="348.60" x2="694.30" y2="348.60" stroke="#ce4d55" stroke-width="1.4" />
<line x1="656.60" y1="346.20" x2="656.60" y2="351.00" stroke="#ce4d55" stroke-width="1.4" />
<line x1="694.30" y1="346.20" x2="694.30" y2="351.00" stroke="#ce4d55" stroke-width="1.4" />
<line x1="675.80" y1="327.40" x2="675.80" y2="369.70" stroke="#ce4d55" stroke-width="1.4" />
<line x1="673.20" y1="327.40" x2="678.40" y2="327.40" stroke="#ce4d55" stroke-width="1.4" />
<line x1="673.20" y1="369.70" x2="678.40" y2="369.70" stroke="#ce4d55" stroke-width="1.4" />
<rect x="673.40" y="346.20" width="4.80" height="4.80" fill="#ce4d55"/>
<line x1="682.90" y1="332.50" x2="726.60" y2="332.50" stroke="#de353d" stroke-width="1.4" />
<line x1="682.90" y1="330.10" x2="682.90" y2="334.90" stroke="#de353d" stroke-width="1.4" />
<line x1="726.60" y1="330.10" x2="726.60" y2="334.90" stroke="#de353d" stroke-width="1.4" />
<line x1="705.00" y1="304.00" x2="705.00" y2="360.40" stroke="#de353d" stroke-width="1.4" />
<line x1="702.40" y1="304.00" x2="707.60" y2="304.00" stroke="#de353d" stroke-width="1.4" />
<line x1="702.40" y1="360.40" x2="707.60" y2="360.40" stroke="#de353d" stroke-width="1.4" />
<rect x="702.60" y="330.10" width="4.80" height="4.80" fill="#de353d"/>
<line x1="684.30" y1="303.90" x2="730.60" y2="303.90" stroke="#d6424a" stroke-width="1.4" />
<line x1="684.30" y1="301.50" x2="684.30" y2="306.30" stroke="#d6424a" stroke-width="1.4" />
<line x1="730.60" y1="301.50" x2="730.60" y2="306.30" stroke="#d6424a" stroke-width="1.4" />
<line x1="707.30" y1="287.80" x2="707.30" y2="318.90" stroke="#d6424a" stroke-width="1.4" />
<line x1="704.70" y1="287.80" x2="709.90" y2="287.80" stroke="#d6424a" stroke-width="1.4" />
<line x1="704.70" y1="318.90" x2="709.90" y2="318.90" stroke="#d6424a" stroke-width="1.4" />
<rect x="704.90" y="301.50" width="4.80" height="4.80" fill="#d6424a"/>
<line x1="715.00" y1="365.70" x2="775.70" y2="365.70" stroke="#e62830" stroke-width="1.4" />
<line x1="715.00" y1="363.30" x2="715.00" y2="368.10" stroke="#e62830" stroke-width="1.4" />
<line x1="775.70" y1="363.30" x2="775.70" y2="368.10" stroke="#e62830" stroke-width="1.4" />
<line x1="745.50" y1="300.60" x2="745.50" y2="431.20" stroke="#e62830" stroke-width="1.4" />
<line x1="742.90" y1="300.60" x2="748.10" y2="300.60" stroke="#e62830" stroke-width="1.4" />
<line x1="742.90" y1="431.20" x2="748.10" y2="431.20" stroke="#e62830" stroke-width="1.4" />
<rect x="743.10" y="363.30" width="4.80" height="4.80" fill="#e62830"/>
<rect x="569.40" y="262.60" width="211.20" height="172.20" fill="none" stroke="#000" stroke-width="1.6"/>
<line x1="595.79" y1="434.80" x2="595.79" y2="431.20" stroke="#000" stroke-width="1.1" />
<line x1="595.79" y1="262.60" x2="595.79" y2="266.20" stroke="#000" stroke-width="1.1" />
<line x1="622.17" y1="434.80" x2="622.17" y2="431.20" stroke="#000" stroke-width="1.1" />
<line x1="622.17" y1="262.60" x2="622.17" y2="266.20" stroke="#000" stroke-width="1.1" />
<line x1="648.56" y1="434.80" x2="648.56" y2="431.20" stroke="#000" stroke-width="1.1" />
<line x1="648.56" y1="262.60" x2="648.56" y2="266.20" stroke="#000" stroke-width="1.1" />
<line x1="674.95" y1="434.80" x2="674.95" y2="431.20" stroke="#000" stroke-width="1.1" />
<line x1="674.95" y1="262.60" x2="674.95" y2="266.20" stroke="#000" stroke-width="1.1" />
<line x1="701.34" y1="434.80" x2="701.34" y2="431.20" stroke="#000" stroke-width="1.1" />
<line x1="701.34" y1="262.60" x2="701.34" y2="266.20" stroke="#000" stroke-width="1.1" />
<line x1="727.72" y1="434.80" x2="727.72" y2="431.20" stroke="#000" stroke-width="1.1" />
<line x1="727.72" y1="262.60" x2="727.72" y2="266.20" stroke="#000" stroke-width="1.1" />
<line x1="754.11" y1="434.80" x2="754.11" y2="431.20" stroke="#000" stroke-width="1.1" />
<line x1="754.11" y1="262.60" x2="754.11" y2="266.20" stroke="#000" stroke-width="1.1" />
<line x1="569.40" y1="400.30" x2="573.00" y2="400.30" stroke="#000" stroke-width="1.1" />
<line x1="780.60" y1="400.30" x2="777.00" y2="400.30" stroke="#000" stroke-width="1.1" />
<line x1="569.40" y1="331.50" x2="573.00" y2="331.50" stroke="#000" stroke-width="1.1" />
<line x1="780.60" y1="331.50" x2="777.00" y2="331.50" stroke="#000" stroke-width="1.1" />
<line x1="569.40" y1="297.10" x2="573.00" y2="297.10" stroke="#000" stroke-width="1.1" />
<line x1="780.60" y1="297.10" x2="777.00" y2="297.10" stroke="#000" stroke-width="1.1" />
<text transform="translate(564.26,453.53) scale(0.9700,1)" font-size="17.00" font-family='"Liberation Sans", sans-serif' fill="#000" >0</text>
<text transform="translate(605.60,453.53) scale(0.9700,1)" font-size="17.00" font-family='"Liberation Sans", sans-serif' fill="#000" >0.05</text>
<text transform="translate(663.02,453.53) scale(0.9700,1)" font-size="17.00" font-family='"Liberation Sans", sans-serif' fill="#000" >0.1</text>
<text transform="translate(711.15,453.53) scale(0.9700,1)" font-size="17.00" font-family='"Liberation Sans", sans-serif' fill="#000" >0.15</text>
<text transform="translate(768.58,453.53) scale(0.9700,1)" font-size="17.00" font-family='"Liberation Sans", sans-serif' fill="#000" >0.2</text>
<text transform="translate(545.04,301.62) scale(0.9600,1)" font-size="17.20" font-family='"Liberation Sans", sans-serif' fill="#000" >0.5</text>
<text transform="translate(558.76,370.42) scale(0.9600,1)" font-size="17.20" font-family='"Liberation Sans", sans-serif' fill="#000" >0</text>
<text transform="translate(539.54,439.22) scale(0.9600,1)" font-size="17.20" font-family='"Liberation Sans", sans-serif' fill="#000" >-0.5</text>
<text transform="translate(570.76,471.79) scale(0.9769,1)" font-size="19.80" font-family='"Liberation Sans", sans-serif' fill="#000" >Alignment After Training</text>
<text transform="translate(551.30,365.04) rotate(-90) scale(0.9743,1)" font-size="20.45" font-family='"Liberation Serif", serif' font-style="italic" fill="#000" >ΔK</text>
<text transform="translate(550.18,340.72) scale(1.0954,1)" font-size="11.65" font-family='"Liberation Sans", sans-serif' fill="#999" >+</text>
<defs><linearGradient id="cb" x1="0" y1="0" x2="0" y2="1"><stop offset="0.000" stop-color="#ee1c24"/><stop offset="0.200" stop-color="#d84048"/><stop offset="0.350" stop-color="#c85860"/><stop offset="0.455" stop-color="#b06a7a"/><stop offset="0.460" stop-color="#92246a"/><stop offset="0.650" stop-color="#722a82"/><stop offset="0.850" stop-color="#4a309a"/><stop offset="1.000" stop-color="#2830a0"/></linearGradient></defs>
<rect x="577.00" y="288.00" width="9.90" height="59.10" fill="url(#cb)"/>
<text transform="translate(588.63,296.83) scale(1.0000,1)" font-size="12.30" font-family='"Liberation Sans", sans-serif' fill="#000" >3</text>
<text transform="translate(588.48,309.53) scale(1.0000,1)" font-size="12.30" font-family='"Liberation Sans", sans-serif' fill="#000" >6</text>
<text transform="translate(588.52,322.23) scale(1.0000,1)" font-size="12.30" font-family='"Liberation Sans", sans-serif' fill="#000" >9</text>
<text transform="translate(588.16,334.99) scale(1.0000,1)" font-size="12.30" font-family='"Liberation Sans", sans-serif' fill="#000" >12</text>
<text transform="translate(588.16,347.57) scale(1.0000,1)" font-size="12.30" font-family='"Liberation Sans", sans-serif' fill="#000" >15</text>
<text transform="translate(572.46,278.50) scale(0.9189,1)" font-size="12.52" font-family='"Liberation Serif", serif' font-style="italic" fill="#000" >R</text>
<text transform="translate(579.61,282.53) scale(1.1092,1)" font-size="7.29" font-family='"Liberation Serif", serif' font-style="italic" fill="#000" >Sim</text>
<text transform="translate(594.99,278.62) scale(1.1327,1)" font-size="11.49" font-family='"Liberation Sans", sans-serif' fill="#000" >(μm</text>
<text transform="translate(617.03,274.50) scale(1.4021,1)" font-size="6.02" font-family='"Liberation Sans", sans-serif' fill="#333" >-2</text>
<text transform="translate(624.83,278.62) scale(1.0509,1)" font-size="11.49" font-family='"Liberation Sans", sans-serif' fill="#000" >)</text>
</svg>
</body></html>
